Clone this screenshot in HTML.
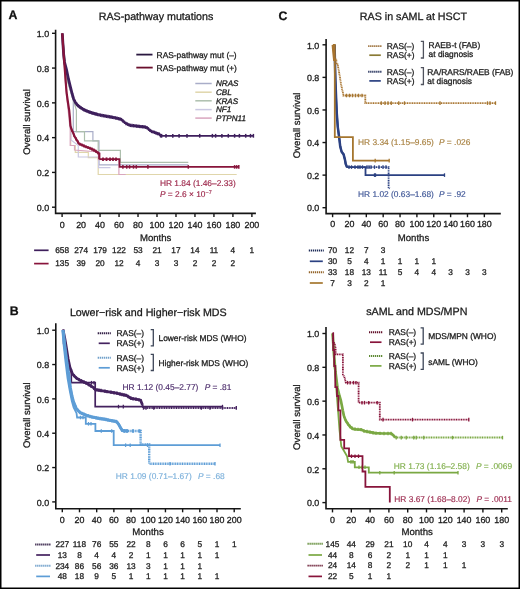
<!DOCTYPE html><html><head><meta charset="utf-8"><style>html,body{margin:0;padding:0;background:#fff;}svg{display:block;font-family:"Liberation Sans", sans-serif;will-change:transform;}</style></head><body>
<svg width="520" height="589" viewBox="0 0 520 589" text-rendering="geometricPrecision">
<rect x="0" y="0" width="520" height="589" fill="#fff"/>
<polyline points="55.60,29.70 55.60,213.40 255.90,213.40" fill="none" stroke="#151515" stroke-width="1.6"/>
<line x1="52.00" y1="207.20" x2="55.60" y2="207.20" stroke="#151515" stroke-width="1.40" stroke-linecap="butt"/>
<text x="49.20" y="210.97" font-size="8.90" text-anchor="end" fill="#1a1a1a" stroke="#1a1a1a" stroke-width="0.28" style="" >0.0</text>
<line x1="52.00" y1="172.42" x2="55.60" y2="172.42" stroke="#151515" stroke-width="1.40" stroke-linecap="butt"/>
<text x="49.20" y="176.19" font-size="8.90" text-anchor="end" fill="#1a1a1a" stroke="#1a1a1a" stroke-width="0.28" style="" >0.2</text>
<line x1="52.00" y1="137.64" x2="55.60" y2="137.64" stroke="#151515" stroke-width="1.40" stroke-linecap="butt"/>
<text x="49.20" y="141.41" font-size="8.90" text-anchor="end" fill="#1a1a1a" stroke="#1a1a1a" stroke-width="0.28" style="" >0.4</text>
<line x1="52.00" y1="102.86" x2="55.60" y2="102.86" stroke="#151515" stroke-width="1.40" stroke-linecap="butt"/>
<text x="49.20" y="106.63" font-size="8.90" text-anchor="end" fill="#1a1a1a" stroke="#1a1a1a" stroke-width="0.28" style="" >0.6</text>
<line x1="52.00" y1="68.08" x2="55.60" y2="68.08" stroke="#151515" stroke-width="1.40" stroke-linecap="butt"/>
<text x="49.20" y="71.85" font-size="8.90" text-anchor="end" fill="#1a1a1a" stroke="#1a1a1a" stroke-width="0.28" style="" >0.8</text>
<line x1="52.00" y1="33.30" x2="55.60" y2="33.30" stroke="#151515" stroke-width="1.40" stroke-linecap="butt"/>
<text x="49.20" y="37.07" font-size="8.90" text-anchor="end" fill="#1a1a1a" stroke="#1a1a1a" stroke-width="0.28" style="" >1.0</text>
<line x1="62.10" y1="213.40" x2="62.10" y2="217.00" stroke="#151515" stroke-width="1.40" stroke-linecap="butt"/>
<text x="62.10" y="227.87" font-size="8.90" text-anchor="middle" fill="#1a1a1a" stroke="#1a1a1a" stroke-width="0.28" style="" >0</text>
<line x1="81.08" y1="213.40" x2="81.08" y2="217.00" stroke="#151515" stroke-width="1.40" stroke-linecap="butt"/>
<text x="81.08" y="227.87" font-size="8.90" text-anchor="middle" fill="#1a1a1a" stroke="#1a1a1a" stroke-width="0.28" style="" >20</text>
<line x1="100.06" y1="213.40" x2="100.06" y2="217.00" stroke="#151515" stroke-width="1.40" stroke-linecap="butt"/>
<text x="100.06" y="227.87" font-size="8.90" text-anchor="middle" fill="#1a1a1a" stroke="#1a1a1a" stroke-width="0.28" style="" >40</text>
<line x1="119.04" y1="213.40" x2="119.04" y2="217.00" stroke="#151515" stroke-width="1.40" stroke-linecap="butt"/>
<text x="119.04" y="227.87" font-size="8.90" text-anchor="middle" fill="#1a1a1a" stroke="#1a1a1a" stroke-width="0.28" style="" >60</text>
<line x1="138.02" y1="213.40" x2="138.02" y2="217.00" stroke="#151515" stroke-width="1.40" stroke-linecap="butt"/>
<text x="138.02" y="227.87" font-size="8.90" text-anchor="middle" fill="#1a1a1a" stroke="#1a1a1a" stroke-width="0.28" style="" >80</text>
<line x1="157.00" y1="213.40" x2="157.00" y2="217.00" stroke="#151515" stroke-width="1.40" stroke-linecap="butt"/>
<text x="157.00" y="227.87" font-size="8.90" text-anchor="middle" fill="#1a1a1a" stroke="#1a1a1a" stroke-width="0.28" style="" >100</text>
<line x1="175.98" y1="213.40" x2="175.98" y2="217.00" stroke="#151515" stroke-width="1.40" stroke-linecap="butt"/>
<text x="175.98" y="227.87" font-size="8.90" text-anchor="middle" fill="#1a1a1a" stroke="#1a1a1a" stroke-width="0.28" style="" >120</text>
<line x1="194.96" y1="213.40" x2="194.96" y2="217.00" stroke="#151515" stroke-width="1.40" stroke-linecap="butt"/>
<text x="194.96" y="227.87" font-size="8.90" text-anchor="middle" fill="#1a1a1a" stroke="#1a1a1a" stroke-width="0.28" style="" >140</text>
<line x1="213.94" y1="213.40" x2="213.94" y2="217.00" stroke="#151515" stroke-width="1.40" stroke-linecap="butt"/>
<text x="213.94" y="227.87" font-size="8.90" text-anchor="middle" fill="#1a1a1a" stroke="#1a1a1a" stroke-width="0.28" style="" >160</text>
<line x1="232.92" y1="213.40" x2="232.92" y2="217.00" stroke="#151515" stroke-width="1.40" stroke-linecap="butt"/>
<text x="232.92" y="227.87" font-size="8.90" text-anchor="middle" fill="#1a1a1a" stroke="#1a1a1a" stroke-width="0.28" style="" >180</text>
<line x1="251.90" y1="213.40" x2="251.90" y2="217.00" stroke="#151515" stroke-width="1.40" stroke-linecap="butt"/>
<text x="251.90" y="227.87" font-size="8.90" text-anchor="middle" fill="#1a1a1a" stroke="#1a1a1a" stroke-width="0.28" style="" >200</text>
<text x="155.70" y="240.81" font-size="9.60" text-anchor="middle" fill="#1a1a1a" stroke="#1a1a1a" stroke-width="0.28" style="" >Months</text>
<text x="0" y="0" font-size="9.60" text-anchor="middle" fill="#151515" stroke="#1a1a1a" stroke-width="0.28" transform="translate(30.10,122.00) rotate(-90)">Overall survival</text>
<line x1="34.10" y1="250.30" x2="48.60" y2="250.30" stroke="#3e1f5c" stroke-width="1.70" stroke-linecap="butt"/>
<text x="62.10" y="253.16" font-size="8.30" text-anchor="middle" fill="#1a1a1a" stroke="#1a1a1a" stroke-width="0.28" style="" >658</text>
<text x="81.08" y="253.16" font-size="8.30" text-anchor="middle" fill="#1a1a1a" stroke="#1a1a1a" stroke-width="0.28" style="" >274</text>
<text x="100.06" y="253.16" font-size="8.30" text-anchor="middle" fill="#1a1a1a" stroke="#1a1a1a" stroke-width="0.28" style="" >179</text>
<text x="119.04" y="253.16" font-size="8.30" text-anchor="middle" fill="#1a1a1a" stroke="#1a1a1a" stroke-width="0.28" style="" >122</text>
<text x="138.02" y="253.16" font-size="8.30" text-anchor="middle" fill="#1a1a1a" stroke="#1a1a1a" stroke-width="0.28" style="" >53</text>
<text x="157.00" y="253.16" font-size="8.30" text-anchor="middle" fill="#1a1a1a" stroke="#1a1a1a" stroke-width="0.28" style="" >21</text>
<text x="175.98" y="253.16" font-size="8.30" text-anchor="middle" fill="#1a1a1a" stroke="#1a1a1a" stroke-width="0.28" style="" >17</text>
<text x="194.96" y="253.16" font-size="8.30" text-anchor="middle" fill="#1a1a1a" stroke="#1a1a1a" stroke-width="0.28" style="" >14</text>
<text x="213.94" y="253.16" font-size="8.30" text-anchor="middle" fill="#1a1a1a" stroke="#1a1a1a" stroke-width="0.28" style="" >11</text>
<text x="232.92" y="253.16" font-size="8.30" text-anchor="middle" fill="#1a1a1a" stroke="#1a1a1a" stroke-width="0.28" style="" >4</text>
<text x="251.90" y="253.16" font-size="8.30" text-anchor="middle" fill="#1a1a1a" stroke="#1a1a1a" stroke-width="0.28" style="" >1</text>
<line x1="34.10" y1="263.60" x2="48.60" y2="263.60" stroke="#88143b" stroke-width="1.70" stroke-linecap="butt"/>
<text x="62.10" y="266.46" font-size="8.30" text-anchor="middle" fill="#1a1a1a" stroke="#1a1a1a" stroke-width="0.28" style="" >135</text>
<text x="81.08" y="266.46" font-size="8.30" text-anchor="middle" fill="#1a1a1a" stroke="#1a1a1a" stroke-width="0.28" style="" >39</text>
<text x="100.06" y="266.46" font-size="8.30" text-anchor="middle" fill="#1a1a1a" stroke="#1a1a1a" stroke-width="0.28" style="" >20</text>
<text x="119.04" y="266.46" font-size="8.30" text-anchor="middle" fill="#1a1a1a" stroke="#1a1a1a" stroke-width="0.28" style="" >12</text>
<text x="138.02" y="266.46" font-size="8.30" text-anchor="middle" fill="#1a1a1a" stroke="#1a1a1a" stroke-width="0.28" style="" >4</text>
<text x="157.00" y="266.46" font-size="8.30" text-anchor="middle" fill="#1a1a1a" stroke="#1a1a1a" stroke-width="0.28" style="" >3</text>
<text x="175.98" y="266.46" font-size="8.30" text-anchor="middle" fill="#1a1a1a" stroke="#1a1a1a" stroke-width="0.28" style="" >3</text>
<text x="194.96" y="266.46" font-size="8.30" text-anchor="middle" fill="#1a1a1a" stroke="#1a1a1a" stroke-width="0.28" style="" >2</text>
<text x="213.94" y="266.46" font-size="8.30" text-anchor="middle" fill="#1a1a1a" stroke="#1a1a1a" stroke-width="0.28" style="" >2</text>
<text x="232.92" y="266.46" font-size="8.30" text-anchor="middle" fill="#1a1a1a" stroke="#1a1a1a" stroke-width="0.28" style="" >2</text>
<text x="8.60" y="18.90" font-size="12.30" text-anchor="start" fill="#111" stroke="#111" stroke-width="0.28" style="font-weight:bold;" >A</text>
<text x="156.00" y="20.10" font-size="10.70" text-anchor="middle" fill="#1a1a1a" stroke="#1a1a1a" stroke-width="0.28" style="" >RAS-pathway mutations</text>
<polyline points="62.30,33.30 66.00,75.00 73.30,101.00 73.30,131.70 92.90,131.70 92.90,140.90 99.00,140.90 99.00,164.80 188.30,164.80" fill="none" stroke="#a9adc8" stroke-width="1.20" stroke-opacity="1.00" stroke-linejoin="miter"/>
<polyline points="62.30,33.30 67.00,80.00 76.40,110.00 76.40,131.70 84.50,131.70 84.50,140.90 98.20,140.90 98.20,150.40 120.40,150.40 120.40,162.30 188.30,162.30" fill="none" stroke="#adbfad" stroke-width="1.20" stroke-opacity="1.00" stroke-linejoin="miter"/>
<polyline points="62.30,33.30 66.00,90.00 70.70,125.00 70.70,145.50 75.30,145.50 75.30,152.30 88.30,152.30 88.30,157.70 98.20,157.70 98.20,174.50 236.70,174.50" fill="none" stroke="#e0d6ab" stroke-width="1.20" stroke-opacity="1.00" stroke-linejoin="miter"/>
<polyline points="62.30,33.30 66.00,90.00 71.00,128.00 71.00,140.00 78.30,145.50 78.30,157.00 98.60,157.00 98.60,167.60 110.50,167.60" fill="none" stroke="#cac8e2" stroke-width="1.20" stroke-opacity="1.00" stroke-linejoin="miter"/>
<polyline points="62.30,33.30 66.00,90.00 70.20,130.00 70.20,145.50 74.50,145.50 74.50,150.00 98.40,152.00 98.40,159.60 118.90,159.60 118.90,174.50 125.70,174.50" fill="none" stroke="#d9a6be" stroke-width="1.20" stroke-opacity="1.00" stroke-linejoin="miter"/>
<polyline points="62.30,33.30 63.00,45.00 63.70,55.00 64.50,62.00 66.50,69.60 68.50,79.20 70.40,86.90 72.20,94.00 73.50,98.50 75.30,102.30 77.50,105.20 79.90,107.20 84.50,110.10 90.60,112.50 98.20,114.70" fill="none" stroke="#3e1f5c" stroke-width="2.80" stroke-opacity="1.00" stroke-linejoin="miter"/>
<polyline points="98.20,114.70 105.90,116.20 113.50,117.50 121.20,119.30 123.50,121.50 125.70,123.30 130.00,125.30 135.00,125.90 140.00,126.50 145.00,127.00 147.50,128.00 149.50,130.00 151.60,131.50 155.00,132.50 157.00,133.50 159.40,134.00 160.50,135.80" fill="none" stroke="#3e1f5c" stroke-width="2.30" stroke-opacity="1.00" stroke-linejoin="miter"/>
<polyline points="160.50,135.80 253.40,135.80" fill="none" stroke="#3e1f5c" stroke-width="1.70" stroke-opacity="1.00" stroke-linejoin="miter"/>
<line x1="75.00" y1="99.97" x2="75.00" y2="103.37" stroke="#3e1f5c" stroke-width="1.30" stroke-linecap="butt"/>
<line x1="76.50" y1="102.18" x2="76.50" y2="105.58" stroke="#3e1f5c" stroke-width="1.30" stroke-linecap="butt"/>
<line x1="78.00" y1="103.92" x2="78.00" y2="107.32" stroke="#3e1f5c" stroke-width="1.30" stroke-linecap="butt"/>
<line x1="79.50" y1="105.17" x2="79.50" y2="108.57" stroke="#3e1f5c" stroke-width="1.30" stroke-linecap="butt"/>
<line x1="81.00" y1="106.19" x2="81.00" y2="109.59" stroke="#3e1f5c" stroke-width="1.30" stroke-linecap="butt"/>
<line x1="82.50" y1="107.14" x2="82.50" y2="110.54" stroke="#3e1f5c" stroke-width="1.30" stroke-linecap="butt"/>
<line x1="84.00" y1="108.08" x2="84.00" y2="111.48" stroke="#3e1f5c" stroke-width="1.30" stroke-linecap="butt"/>
<line x1="85.50" y1="108.79" x2="85.50" y2="112.19" stroke="#3e1f5c" stroke-width="1.30" stroke-linecap="butt"/>
<line x1="87.00" y1="109.38" x2="87.00" y2="112.78" stroke="#3e1f5c" stroke-width="1.30" stroke-linecap="butt"/>
<line x1="88.50" y1="109.97" x2="88.50" y2="113.37" stroke="#3e1f5c" stroke-width="1.30" stroke-linecap="butt"/>
<line x1="90.00" y1="110.56" x2="90.00" y2="113.96" stroke="#3e1f5c" stroke-width="1.30" stroke-linecap="butt"/>
<line x1="91.50" y1="111.06" x2="91.50" y2="114.46" stroke="#3e1f5c" stroke-width="1.30" stroke-linecap="butt"/>
<line x1="93.00" y1="111.49" x2="93.00" y2="114.89" stroke="#3e1f5c" stroke-width="1.30" stroke-linecap="butt"/>
<line x1="94.50" y1="111.93" x2="94.50" y2="115.33" stroke="#3e1f5c" stroke-width="1.30" stroke-linecap="butt"/>
<line x1="96.00" y1="112.36" x2="96.00" y2="115.76" stroke="#3e1f5c" stroke-width="1.30" stroke-linecap="butt"/>
<line x1="97.50" y1="112.80" x2="97.50" y2="116.20" stroke="#3e1f5c" stroke-width="1.30" stroke-linecap="butt"/>
<line x1="99.00" y1="113.16" x2="99.00" y2="116.56" stroke="#3e1f5c" stroke-width="1.30" stroke-linecap="butt"/>
<line x1="100.50" y1="113.45" x2="100.50" y2="116.85" stroke="#3e1f5c" stroke-width="1.30" stroke-linecap="butt"/>
<line x1="102.00" y1="113.74" x2="102.00" y2="117.14" stroke="#3e1f5c" stroke-width="1.30" stroke-linecap="butt"/>
<line x1="103.50" y1="114.03" x2="103.50" y2="117.43" stroke="#3e1f5c" stroke-width="1.30" stroke-linecap="butt"/>
<line x1="105.00" y1="114.32" x2="105.00" y2="117.72" stroke="#3e1f5c" stroke-width="1.30" stroke-linecap="butt"/>
<line x1="106.50" y1="114.60" x2="106.50" y2="118.00" stroke="#3e1f5c" stroke-width="1.30" stroke-linecap="butt"/>
<line x1="108.00" y1="114.86" x2="108.00" y2="118.26" stroke="#3e1f5c" stroke-width="1.30" stroke-linecap="butt"/>
<line x1="109.50" y1="115.12" x2="109.50" y2="118.52" stroke="#3e1f5c" stroke-width="1.30" stroke-linecap="butt"/>
<line x1="111.00" y1="115.37" x2="111.00" y2="118.77" stroke="#3e1f5c" stroke-width="1.30" stroke-linecap="butt"/>
<line x1="112.50" y1="115.63" x2="112.50" y2="119.03" stroke="#3e1f5c" stroke-width="1.30" stroke-linecap="butt"/>
<line x1="114.00" y1="115.92" x2="114.00" y2="119.32" stroke="#3e1f5c" stroke-width="1.30" stroke-linecap="butt"/>
<line x1="115.50" y1="116.27" x2="115.50" y2="119.67" stroke="#3e1f5c" stroke-width="1.30" stroke-linecap="butt"/>
<line x1="117.00" y1="116.62" x2="117.00" y2="120.02" stroke="#3e1f5c" stroke-width="1.30" stroke-linecap="butt"/>
<line x1="118.50" y1="116.97" x2="118.50" y2="120.37" stroke="#3e1f5c" stroke-width="1.30" stroke-linecap="butt"/>
<line x1="120.00" y1="117.32" x2="120.00" y2="120.72" stroke="#3e1f5c" stroke-width="1.30" stroke-linecap="butt"/>
<line x1="121.50" y1="117.89" x2="121.50" y2="121.29" stroke="#3e1f5c" stroke-width="1.30" stroke-linecap="butt"/>
<line x1="123.00" y1="119.32" x2="123.00" y2="122.72" stroke="#3e1f5c" stroke-width="1.30" stroke-linecap="butt"/>
<line x1="124.50" y1="120.62" x2="124.50" y2="124.02" stroke="#3e1f5c" stroke-width="1.30" stroke-linecap="butt"/>
<line x1="126.00" y1="121.74" x2="126.00" y2="125.14" stroke="#3e1f5c" stroke-width="1.30" stroke-linecap="butt"/>
<line x1="127.50" y1="122.44" x2="127.50" y2="125.84" stroke="#3e1f5c" stroke-width="1.30" stroke-linecap="butt"/>
<line x1="129.00" y1="123.13" x2="129.00" y2="126.53" stroke="#3e1f5c" stroke-width="1.30" stroke-linecap="butt"/>
<line x1="130.50" y1="123.66" x2="130.50" y2="127.06" stroke="#3e1f5c" stroke-width="1.30" stroke-linecap="butt"/>
<line x1="132.00" y1="123.84" x2="132.00" y2="127.24" stroke="#3e1f5c" stroke-width="1.30" stroke-linecap="butt"/>
<line x1="133.50" y1="124.02" x2="133.50" y2="127.42" stroke="#3e1f5c" stroke-width="1.30" stroke-linecap="butt"/>
<line x1="135.00" y1="124.20" x2="135.00" y2="127.60" stroke="#3e1f5c" stroke-width="1.30" stroke-linecap="butt"/>
<line x1="136.50" y1="124.38" x2="136.50" y2="127.78" stroke="#3e1f5c" stroke-width="1.30" stroke-linecap="butt"/>
<line x1="138.00" y1="124.56" x2="138.00" y2="127.96" stroke="#3e1f5c" stroke-width="1.30" stroke-linecap="butt"/>
<line x1="139.50" y1="124.74" x2="139.50" y2="128.14" stroke="#3e1f5c" stroke-width="1.30" stroke-linecap="butt"/>
<line x1="141.00" y1="124.90" x2="141.00" y2="128.30" stroke="#3e1f5c" stroke-width="1.30" stroke-linecap="butt"/>
<line x1="142.50" y1="125.05" x2="142.50" y2="128.45" stroke="#3e1f5c" stroke-width="1.30" stroke-linecap="butt"/>
<line x1="144.00" y1="125.20" x2="144.00" y2="128.60" stroke="#3e1f5c" stroke-width="1.30" stroke-linecap="butt"/>
<line x1="145.50" y1="125.50" x2="145.50" y2="128.90" stroke="#3e1f5c" stroke-width="1.30" stroke-linecap="butt"/>
<line x1="147.00" y1="126.10" x2="147.00" y2="129.50" stroke="#3e1f5c" stroke-width="1.30" stroke-linecap="butt"/>
<line x1="148.50" y1="127.30" x2="148.50" y2="130.70" stroke="#3e1f5c" stroke-width="1.30" stroke-linecap="butt"/>
<line x1="150.00" y1="128.66" x2="150.00" y2="132.06" stroke="#3e1f5c" stroke-width="1.30" stroke-linecap="butt"/>
<line x1="151.50" y1="129.73" x2="151.50" y2="133.13" stroke="#3e1f5c" stroke-width="1.30" stroke-linecap="butt"/>
<line x1="153.00" y1="130.21" x2="153.00" y2="133.61" stroke="#3e1f5c" stroke-width="1.30" stroke-linecap="butt"/>
<line x1="154.50" y1="130.65" x2="154.50" y2="134.05" stroke="#3e1f5c" stroke-width="1.30" stroke-linecap="butt"/>
<line x1="156.00" y1="131.30" x2="156.00" y2="134.70" stroke="#3e1f5c" stroke-width="1.30" stroke-linecap="butt"/>
<line x1="157.50" y1="131.90" x2="157.50" y2="135.30" stroke="#3e1f5c" stroke-width="1.30" stroke-linecap="butt"/>
<line x1="159.00" y1="132.22" x2="159.00" y2="135.62" stroke="#3e1f5c" stroke-width="1.30" stroke-linecap="butt"/>
<line x1="160.50" y1="134.10" x2="160.50" y2="137.50" stroke="#3e1f5c" stroke-width="1.30" stroke-linecap="butt"/>
<line x1="161.60" y1="133.90" x2="161.60" y2="137.70" stroke="#3e1f5c" stroke-width="1.50" stroke-linecap="butt"/>
<line x1="166.00" y1="133.90" x2="166.00" y2="137.70" stroke="#3e1f5c" stroke-width="1.50" stroke-linecap="butt"/>
<line x1="172.80" y1="133.90" x2="172.80" y2="137.70" stroke="#3e1f5c" stroke-width="1.50" stroke-linecap="butt"/>
<line x1="179.10" y1="133.90" x2="179.10" y2="137.70" stroke="#3e1f5c" stroke-width="1.50" stroke-linecap="butt"/>
<line x1="187.00" y1="133.90" x2="187.00" y2="137.70" stroke="#3e1f5c" stroke-width="1.50" stroke-linecap="butt"/>
<line x1="199.70" y1="133.90" x2="199.70" y2="137.70" stroke="#3e1f5c" stroke-width="1.50" stroke-linecap="butt"/>
<line x1="212.40" y1="133.90" x2="212.40" y2="137.70" stroke="#3e1f5c" stroke-width="1.50" stroke-linecap="butt"/>
<line x1="215.60" y1="133.90" x2="215.60" y2="137.70" stroke="#3e1f5c" stroke-width="1.50" stroke-linecap="butt"/>
<line x1="221.90" y1="133.90" x2="221.90" y2="137.70" stroke="#3e1f5c" stroke-width="1.50" stroke-linecap="butt"/>
<line x1="228.30" y1="133.90" x2="228.30" y2="137.70" stroke="#3e1f5c" stroke-width="1.50" stroke-linecap="butt"/>
<line x1="234.60" y1="133.90" x2="234.60" y2="137.70" stroke="#3e1f5c" stroke-width="1.50" stroke-linecap="butt"/>
<line x1="239.40" y1="133.90" x2="239.40" y2="137.70" stroke="#3e1f5c" stroke-width="1.50" stroke-linecap="butt"/>
<line x1="245.70" y1="133.90" x2="245.70" y2="137.70" stroke="#3e1f5c" stroke-width="1.50" stroke-linecap="butt"/>
<line x1="250.50" y1="133.90" x2="250.50" y2="137.70" stroke="#3e1f5c" stroke-width="1.50" stroke-linecap="butt"/>
<line x1="253.40" y1="133.90" x2="253.40" y2="137.70" stroke="#3e1f5c" stroke-width="1.50" stroke-linecap="butt"/>
<polyline points="62.30,33.30 63.70,55.00 65.00,72.00 66.20,88.00 66.90,95.00 68.20,104.00 69.20,110.30 69.90,117.90 70.40,125.60 71.50,129.40 73.00,132.50 74.50,136.30 76.80,140.10 79.10,143.90 82.00,145.00 84.50,146.20 90.60,148.50 95.20,150.80 98.20,153.10 99.30,153.50 99.30,159.20" fill="none" stroke="#88143b" stroke-width="2.20" stroke-opacity="1.00" stroke-linejoin="miter"/>
<polyline points="99.30,159.20 119.40,159.20 119.60,166.90 238.80,166.90" fill="none" stroke="#88143b" stroke-width="1.80" stroke-opacity="1.00" stroke-linejoin="miter"/>
<line x1="103.00" y1="157.40" x2="103.00" y2="161.00" stroke="#88143b" stroke-width="1.80" stroke-linecap="butt"/>
<line x1="106.50" y1="157.40" x2="106.50" y2="161.00" stroke="#88143b" stroke-width="1.80" stroke-linecap="butt"/>
<line x1="110.00" y1="157.40" x2="110.00" y2="161.00" stroke="#88143b" stroke-width="1.80" stroke-linecap="butt"/>
<line x1="113.00" y1="157.40" x2="113.00" y2="161.00" stroke="#88143b" stroke-width="1.80" stroke-linecap="butt"/>
<line x1="116.00" y1="157.40" x2="116.00" y2="161.00" stroke="#88143b" stroke-width="1.80" stroke-linecap="butt"/>
<line x1="72.00" y1="128.83" x2="72.00" y2="132.03" stroke="#88143b" stroke-width="1.30" stroke-linecap="butt"/>
<line x1="74.00" y1="133.43" x2="74.00" y2="136.63" stroke="#88143b" stroke-width="1.30" stroke-linecap="butt"/>
<line x1="76.00" y1="137.18" x2="76.00" y2="140.38" stroke="#88143b" stroke-width="1.30" stroke-linecap="butt"/>
<line x1="78.00" y1="140.48" x2="78.00" y2="143.68" stroke="#88143b" stroke-width="1.30" stroke-linecap="butt"/>
<line x1="80.00" y1="142.64" x2="80.00" y2="145.84" stroke="#88143b" stroke-width="1.30" stroke-linecap="butt"/>
<line x1="82.00" y1="143.40" x2="82.00" y2="146.60" stroke="#88143b" stroke-width="1.30" stroke-linecap="butt"/>
<line x1="84.00" y1="144.36" x2="84.00" y2="147.56" stroke="#88143b" stroke-width="1.30" stroke-linecap="butt"/>
<line x1="86.00" y1="145.17" x2="86.00" y2="148.37" stroke="#88143b" stroke-width="1.30" stroke-linecap="butt"/>
<line x1="88.00" y1="145.92" x2="88.00" y2="149.12" stroke="#88143b" stroke-width="1.30" stroke-linecap="butt"/>
<line x1="90.00" y1="146.67" x2="90.00" y2="149.87" stroke="#88143b" stroke-width="1.30" stroke-linecap="butt"/>
<line x1="92.00" y1="147.60" x2="92.00" y2="150.80" stroke="#88143b" stroke-width="1.30" stroke-linecap="butt"/>
<line x1="94.00" y1="148.60" x2="94.00" y2="151.80" stroke="#88143b" stroke-width="1.30" stroke-linecap="butt"/>
<line x1="96.00" y1="149.81" x2="96.00" y2="153.01" stroke="#88143b" stroke-width="1.30" stroke-linecap="butt"/>
<line x1="98.00" y1="151.35" x2="98.00" y2="154.55" stroke="#88143b" stroke-width="1.30" stroke-linecap="butt"/>
<line x1="122.90" y1="165.10" x2="122.90" y2="168.70" stroke="#88143b" stroke-width="1.50" stroke-linecap="butt"/>
<line x1="126.70" y1="165.10" x2="126.70" y2="168.70" stroke="#88143b" stroke-width="1.50" stroke-linecap="butt"/>
<line x1="129.60" y1="165.10" x2="129.60" y2="168.70" stroke="#88143b" stroke-width="1.50" stroke-linecap="butt"/>
<line x1="133.50" y1="165.10" x2="133.50" y2="168.70" stroke="#88143b" stroke-width="1.50" stroke-linecap="butt"/>
<line x1="136.30" y1="165.10" x2="136.30" y2="168.70" stroke="#88143b" stroke-width="1.50" stroke-linecap="butt"/>
<line x1="147.90" y1="165.10" x2="147.90" y2="168.70" stroke="#88143b" stroke-width="1.50" stroke-linecap="butt"/>
<line x1="188.30" y1="165.10" x2="188.30" y2="168.70" stroke="#88143b" stroke-width="1.50" stroke-linecap="butt"/>
<line x1="234.60" y1="165.10" x2="234.60" y2="168.70" stroke="#88143b" stroke-width="1.50" stroke-linecap="butt"/>
<line x1="236.70" y1="165.10" x2="236.70" y2="168.70" stroke="#88143b" stroke-width="1.50" stroke-linecap="butt"/>
<line x1="238.80" y1="165.10" x2="238.80" y2="168.70" stroke="#88143b" stroke-width="1.50" stroke-linecap="butt"/>
<line x1="136.30" y1="54.60" x2="152.50" y2="54.60" stroke="#2a1840" stroke-width="1.80" stroke-linecap="butt"/>
<line x1="136.30" y1="67.60" x2="152.70" y2="67.60" stroke="#6a0f2c" stroke-width="1.80" stroke-linecap="butt"/>
<text x="156.60" y="57.70" font-size="8.40" text-anchor="start" fill="#1a1a1a" stroke="#1a1a1a" stroke-width="0.28" style="" >RAS-pathway mut (–)</text>
<text x="156.60" y="70.70" font-size="8.40" text-anchor="start" fill="#1a1a1a" stroke="#1a1a1a" stroke-width="0.28" style="" >RAS-pathway mut (+)</text>
<line x1="195.30" y1="83.50" x2="211.70" y2="83.50" stroke="#a9adc8" stroke-width="1.50" stroke-linecap="butt"/>
<text x="216.00" y="86.29" font-size="8.10" text-anchor="start" fill="#1a1a1a" stroke="#1a1a1a" stroke-width="0.28" style="font-style:italic;" >NRAS</text>
<line x1="195.30" y1="92.20" x2="211.70" y2="92.20" stroke="#e0d6ab" stroke-width="1.50" stroke-linecap="butt"/>
<text x="216.00" y="94.99" font-size="8.10" text-anchor="start" fill="#1a1a1a" stroke="#1a1a1a" stroke-width="0.28" style="font-style:italic;" >CBL</text>
<line x1="195.30" y1="100.80" x2="211.70" y2="100.80" stroke="#adbfad" stroke-width="1.50" stroke-linecap="butt"/>
<text x="216.00" y="103.59" font-size="8.10" text-anchor="start" fill="#1a1a1a" stroke="#1a1a1a" stroke-width="0.28" style="font-style:italic;" >KRAS</text>
<line x1="195.30" y1="109.60" x2="211.70" y2="109.60" stroke="#cac8e2" stroke-width="1.50" stroke-linecap="butt"/>
<text x="216.00" y="112.39" font-size="8.10" text-anchor="start" fill="#1a1a1a" stroke="#1a1a1a" stroke-width="0.28" style="font-style:italic;" >NF1</text>
<line x1="195.30" y1="118.10" x2="211.70" y2="118.10" stroke="#d9a6be" stroke-width="1.50" stroke-linecap="butt"/>
<text x="216.00" y="120.89" font-size="8.10" text-anchor="start" fill="#1a1a1a" stroke="#1a1a1a" stroke-width="0.28" style="font-style:italic;" >PTPN11</text>
<text x="159.90" y="185.70" font-size="8.40" text-anchor="start" fill="#9c2448" stroke="#9c2448" stroke-width="0.15" style="" >HR 1.84 (1.46–2.33)</text>
<text x="159.90" y="196.80" font-size="8.40" text-anchor="start" fill="#9c2448" stroke="#9c2448" stroke-width="0.15" style="" ><tspan font-style="italic">P</tspan> = 2.6 × 10<tspan font-size="5.5" dy="-3.2">−7</tspan></text>
<polyline points="55.80,323.30 55.80,508.70 240.80,508.70" fill="none" stroke="#151515" stroke-width="1.6"/>
<line x1="52.20" y1="501.90" x2="55.80" y2="501.90" stroke="#151515" stroke-width="1.40" stroke-linecap="butt"/>
<text x="49.20" y="505.67" font-size="8.90" text-anchor="end" fill="#1a1a1a" stroke="#1a1a1a" stroke-width="0.28" style="" >0.0</text>
<line x1="52.20" y1="467.56" x2="55.80" y2="467.56" stroke="#151515" stroke-width="1.40" stroke-linecap="butt"/>
<text x="49.20" y="471.33" font-size="8.90" text-anchor="end" fill="#1a1a1a" stroke="#1a1a1a" stroke-width="0.28" style="" >0.2</text>
<line x1="52.20" y1="433.22" x2="55.80" y2="433.22" stroke="#151515" stroke-width="1.40" stroke-linecap="butt"/>
<text x="49.20" y="436.99" font-size="8.90" text-anchor="end" fill="#1a1a1a" stroke="#1a1a1a" stroke-width="0.28" style="" >0.4</text>
<line x1="52.20" y1="398.88" x2="55.80" y2="398.88" stroke="#151515" stroke-width="1.40" stroke-linecap="butt"/>
<text x="49.20" y="402.65" font-size="8.90" text-anchor="end" fill="#1a1a1a" stroke="#1a1a1a" stroke-width="0.28" style="" >0.6</text>
<line x1="52.20" y1="364.54" x2="55.80" y2="364.54" stroke="#151515" stroke-width="1.40" stroke-linecap="butt"/>
<text x="49.20" y="368.31" font-size="8.90" text-anchor="end" fill="#1a1a1a" stroke="#1a1a1a" stroke-width="0.28" style="" >0.8</text>
<line x1="52.20" y1="330.20" x2="55.80" y2="330.20" stroke="#151515" stroke-width="1.40" stroke-linecap="butt"/>
<text x="49.20" y="333.97" font-size="8.90" text-anchor="end" fill="#1a1a1a" stroke="#1a1a1a" stroke-width="0.28" style="" >1.0</text>
<line x1="62.30" y1="508.70" x2="62.30" y2="512.30" stroke="#151515" stroke-width="1.40" stroke-linecap="butt"/>
<text x="62.30" y="522.67" font-size="8.90" text-anchor="middle" fill="#1a1a1a" stroke="#1a1a1a" stroke-width="0.28" style="" >0</text>
<line x1="79.49" y1="508.70" x2="79.49" y2="512.30" stroke="#151515" stroke-width="1.40" stroke-linecap="butt"/>
<text x="79.49" y="522.67" font-size="8.90" text-anchor="middle" fill="#1a1a1a" stroke="#1a1a1a" stroke-width="0.28" style="" >20</text>
<line x1="96.68" y1="508.70" x2="96.68" y2="512.30" stroke="#151515" stroke-width="1.40" stroke-linecap="butt"/>
<text x="96.68" y="522.67" font-size="8.90" text-anchor="middle" fill="#1a1a1a" stroke="#1a1a1a" stroke-width="0.28" style="" >40</text>
<line x1="113.87" y1="508.70" x2="113.87" y2="512.30" stroke="#151515" stroke-width="1.40" stroke-linecap="butt"/>
<text x="113.87" y="522.67" font-size="8.90" text-anchor="middle" fill="#1a1a1a" stroke="#1a1a1a" stroke-width="0.28" style="" >60</text>
<line x1="131.06" y1="508.70" x2="131.06" y2="512.30" stroke="#151515" stroke-width="1.40" stroke-linecap="butt"/>
<text x="131.06" y="522.67" font-size="8.90" text-anchor="middle" fill="#1a1a1a" stroke="#1a1a1a" stroke-width="0.28" style="" >80</text>
<line x1="148.25" y1="508.70" x2="148.25" y2="512.30" stroke="#151515" stroke-width="1.40" stroke-linecap="butt"/>
<text x="148.25" y="522.67" font-size="8.90" text-anchor="middle" fill="#1a1a1a" stroke="#1a1a1a" stroke-width="0.28" style="" >100</text>
<line x1="165.44" y1="508.70" x2="165.44" y2="512.30" stroke="#151515" stroke-width="1.40" stroke-linecap="butt"/>
<text x="165.44" y="522.67" font-size="8.90" text-anchor="middle" fill="#1a1a1a" stroke="#1a1a1a" stroke-width="0.28" style="" >120</text>
<line x1="182.63" y1="508.70" x2="182.63" y2="512.30" stroke="#151515" stroke-width="1.40" stroke-linecap="butt"/>
<text x="182.63" y="522.67" font-size="8.90" text-anchor="middle" fill="#1a1a1a" stroke="#1a1a1a" stroke-width="0.28" style="" >140</text>
<line x1="199.82" y1="508.70" x2="199.82" y2="512.30" stroke="#151515" stroke-width="1.40" stroke-linecap="butt"/>
<text x="199.82" y="522.67" font-size="8.90" text-anchor="middle" fill="#1a1a1a" stroke="#1a1a1a" stroke-width="0.28" style="" >160</text>
<line x1="217.01" y1="508.70" x2="217.01" y2="512.30" stroke="#151515" stroke-width="1.40" stroke-linecap="butt"/>
<text x="217.01" y="522.67" font-size="8.90" text-anchor="middle" fill="#1a1a1a" stroke="#1a1a1a" stroke-width="0.28" style="" >180</text>
<line x1="234.20" y1="508.70" x2="234.20" y2="512.30" stroke="#151515" stroke-width="1.40" stroke-linecap="butt"/>
<text x="234.20" y="522.67" font-size="8.90" text-anchor="middle" fill="#1a1a1a" stroke="#1a1a1a" stroke-width="0.28" style="" >200</text>
<text x="148.00" y="535.31" font-size="9.60" text-anchor="middle" fill="#1a1a1a" stroke="#1a1a1a" stroke-width="0.28" style="" >Months</text>
<text x="0" y="0" font-size="9.60" text-anchor="middle" fill="#151515" stroke="#1a1a1a" stroke-width="0.28" transform="translate(30.20,415.20) rotate(-90)">Overall survival</text>
<line x1="35.20" y1="544.50" x2="51.00" y2="544.50" stroke="#2c1840" stroke-width="1.90" stroke-dasharray="1.25 0.75" stroke-linecap="butt"/>
<text x="62.30" y="547.36" font-size="8.30" text-anchor="middle" fill="#1a1a1a" stroke="#1a1a1a" stroke-width="0.28" style="" >227</text>
<text x="79.49" y="547.36" font-size="8.30" text-anchor="middle" fill="#1a1a1a" stroke="#1a1a1a" stroke-width="0.28" style="" >118</text>
<text x="96.68" y="547.36" font-size="8.30" text-anchor="middle" fill="#1a1a1a" stroke="#1a1a1a" stroke-width="0.28" style="" >76</text>
<text x="113.87" y="547.36" font-size="8.30" text-anchor="middle" fill="#1a1a1a" stroke="#1a1a1a" stroke-width="0.28" style="" >55</text>
<text x="131.06" y="547.36" font-size="8.30" text-anchor="middle" fill="#1a1a1a" stroke="#1a1a1a" stroke-width="0.28" style="" >22</text>
<text x="148.25" y="547.36" font-size="8.30" text-anchor="middle" fill="#1a1a1a" stroke="#1a1a1a" stroke-width="0.28" style="" >8</text>
<text x="165.44" y="547.36" font-size="8.30" text-anchor="middle" fill="#1a1a1a" stroke="#1a1a1a" stroke-width="0.28" style="" >6</text>
<text x="182.63" y="547.36" font-size="8.30" text-anchor="middle" fill="#1a1a1a" stroke="#1a1a1a" stroke-width="0.28" style="" >6</text>
<text x="199.82" y="547.36" font-size="8.30" text-anchor="middle" fill="#1a1a1a" stroke="#1a1a1a" stroke-width="0.28" style="" >5</text>
<text x="217.01" y="547.36" font-size="8.30" text-anchor="middle" fill="#1a1a1a" stroke="#1a1a1a" stroke-width="0.28" style="" >1</text>
<text x="234.20" y="547.36" font-size="8.30" text-anchor="middle" fill="#1a1a1a" stroke="#1a1a1a" stroke-width="0.28" style="" >1</text>
<line x1="36.20" y1="555.00" x2="50.00" y2="555.00" stroke="#44225f" stroke-width="1.70" stroke-linecap="butt"/>
<text x="62.30" y="557.86" font-size="8.30" text-anchor="middle" fill="#1a1a1a" stroke="#1a1a1a" stroke-width="0.28" style="" >13</text>
<text x="79.49" y="557.86" font-size="8.30" text-anchor="middle" fill="#1a1a1a" stroke="#1a1a1a" stroke-width="0.28" style="" >8</text>
<text x="96.68" y="557.86" font-size="8.30" text-anchor="middle" fill="#1a1a1a" stroke="#1a1a1a" stroke-width="0.28" style="" >4</text>
<text x="113.87" y="557.86" font-size="8.30" text-anchor="middle" fill="#1a1a1a" stroke="#1a1a1a" stroke-width="0.28" style="" >4</text>
<text x="131.06" y="557.86" font-size="8.30" text-anchor="middle" fill="#1a1a1a" stroke="#1a1a1a" stroke-width="0.28" style="" >2</text>
<text x="148.25" y="557.86" font-size="8.30" text-anchor="middle" fill="#1a1a1a" stroke="#1a1a1a" stroke-width="0.28" style="" >1</text>
<text x="165.44" y="557.86" font-size="8.30" text-anchor="middle" fill="#1a1a1a" stroke="#1a1a1a" stroke-width="0.28" style="" >1</text>
<text x="182.63" y="557.86" font-size="8.30" text-anchor="middle" fill="#1a1a1a" stroke="#1a1a1a" stroke-width="0.28" style="" >1</text>
<text x="199.82" y="557.86" font-size="8.30" text-anchor="middle" fill="#1a1a1a" stroke="#1a1a1a" stroke-width="0.28" style="" >1</text>
<text x="217.01" y="557.86" font-size="8.30" text-anchor="middle" fill="#1a1a1a" stroke="#1a1a1a" stroke-width="0.28" style="" >1</text>
<line x1="35.20" y1="565.80" x2="51.00" y2="565.80" stroke="#6a9cc8" stroke-width="1.90" stroke-dasharray="1.25 0.75" stroke-linecap="butt"/>
<text x="62.30" y="568.66" font-size="8.30" text-anchor="middle" fill="#1a1a1a" stroke="#1a1a1a" stroke-width="0.28" style="" >234</text>
<text x="79.49" y="568.66" font-size="8.30" text-anchor="middle" fill="#1a1a1a" stroke="#1a1a1a" stroke-width="0.28" style="" >86</text>
<text x="96.68" y="568.66" font-size="8.30" text-anchor="middle" fill="#1a1a1a" stroke="#1a1a1a" stroke-width="0.28" style="" >56</text>
<text x="113.87" y="568.66" font-size="8.30" text-anchor="middle" fill="#1a1a1a" stroke="#1a1a1a" stroke-width="0.28" style="" >36</text>
<text x="131.06" y="568.66" font-size="8.30" text-anchor="middle" fill="#1a1a1a" stroke="#1a1a1a" stroke-width="0.28" style="" >13</text>
<text x="148.25" y="568.66" font-size="8.30" text-anchor="middle" fill="#1a1a1a" stroke="#1a1a1a" stroke-width="0.28" style="" >3</text>
<text x="165.44" y="568.66" font-size="8.30" text-anchor="middle" fill="#1a1a1a" stroke="#1a1a1a" stroke-width="0.28" style="" >1</text>
<text x="182.63" y="568.66" font-size="8.30" text-anchor="middle" fill="#1a1a1a" stroke="#1a1a1a" stroke-width="0.28" style="" >1</text>
<text x="199.82" y="568.66" font-size="8.30" text-anchor="middle" fill="#1a1a1a" stroke="#1a1a1a" stroke-width="0.28" style="" >1</text>
<line x1="36.20" y1="576.40" x2="50.00" y2="576.40" stroke="#5d9dd6" stroke-width="1.70" stroke-linecap="butt"/>
<text x="62.30" y="579.26" font-size="8.30" text-anchor="middle" fill="#1a1a1a" stroke="#1a1a1a" stroke-width="0.28" style="" >48</text>
<text x="79.49" y="579.26" font-size="8.30" text-anchor="middle" fill="#1a1a1a" stroke="#1a1a1a" stroke-width="0.28" style="" >18</text>
<text x="96.68" y="579.26" font-size="8.30" text-anchor="middle" fill="#1a1a1a" stroke="#1a1a1a" stroke-width="0.28" style="" >9</text>
<text x="113.87" y="579.26" font-size="8.30" text-anchor="middle" fill="#1a1a1a" stroke="#1a1a1a" stroke-width="0.28" style="" >5</text>
<text x="131.06" y="579.26" font-size="8.30" text-anchor="middle" fill="#1a1a1a" stroke="#1a1a1a" stroke-width="0.28" style="" >1</text>
<text x="148.25" y="579.26" font-size="8.30" text-anchor="middle" fill="#1a1a1a" stroke="#1a1a1a" stroke-width="0.28" style="" >1</text>
<text x="165.44" y="579.26" font-size="8.30" text-anchor="middle" fill="#1a1a1a" stroke="#1a1a1a" stroke-width="0.28" style="" >1</text>
<text x="182.63" y="579.26" font-size="8.30" text-anchor="middle" fill="#1a1a1a" stroke="#1a1a1a" stroke-width="0.28" style="" >1</text>
<text x="199.82" y="579.26" font-size="8.30" text-anchor="middle" fill="#1a1a1a" stroke="#1a1a1a" stroke-width="0.28" style="" >1</text>
<text x="217.01" y="579.26" font-size="8.30" text-anchor="middle" fill="#1a1a1a" stroke="#1a1a1a" stroke-width="0.28" style="" >1</text>
<text x="9.80" y="315.20" font-size="12.30" text-anchor="start" fill="#111" stroke="#111" stroke-width="0.28" style="font-weight:bold;" >B</text>
<text x="148.30" y="315.80" font-size="10.70" text-anchor="middle" fill="#1a1a1a" stroke="#1a1a1a" stroke-width="0.28" style="" >Lower−risk and Higher−risk MDS</text>
<polyline points="62.30,330.20 63.60,330.20 63.60,343.40 65.60,343.40 65.60,356.60 68.00,356.60 68.00,369.80 71.30,369.80 71.30,382.70 95.20,382.70 95.20,406.60 222.50,406.60" fill="none" stroke="#44225f" stroke-width="1.70" stroke-opacity="1.00" stroke-linejoin="miter"/>
<line x1="91.50" y1="380.90" x2="91.50" y2="384.50" stroke="#44225f" stroke-width="1.30" stroke-linecap="butt"/>
<line x1="94.00" y1="380.90" x2="94.00" y2="384.50" stroke="#44225f" stroke-width="1.30" stroke-linecap="butt"/>
<line x1="118.50" y1="404.80" x2="118.50" y2="408.40" stroke="#44225f" stroke-width="1.30" stroke-linecap="butt"/>
<line x1="123.30" y1="404.80" x2="123.30" y2="408.40" stroke="#44225f" stroke-width="1.30" stroke-linecap="butt"/>
<line x1="222.50" y1="404.80" x2="222.50" y2="408.40" stroke="#44225f" stroke-width="1.30" stroke-linecap="butt"/>
<polyline points="63.10,330.10 64.90,339.00 66.40,348.10 68.10,358.70 69.90,367.30 72.50,374.00 76.20,377.90 80.00,380.20 85.80,382.90 90.60,385.80 93.50,387.70 95.40,389.60 101.20,390.60 108.80,391.90 116.50,393.10 121.30,394.40 126.20,395.40 131.00,398.30 135.80,399.20 140.60,400.20 142.50,405.00" fill="none" stroke="#44225f" stroke-width="2.80" stroke-opacity="1.00" stroke-linejoin="miter"/>
<polyline points="142.50,405.00 143.30,407.90 236.30,407.90" fill="none" stroke="#44225f" stroke-width="2.00" stroke-dasharray="1.1 0.6" stroke-opacity="1.00" stroke-linejoin="miter"/>
<line x1="66.00" y1="343.97" x2="66.00" y2="347.37" stroke="#44225f" stroke-width="1.30" stroke-linecap="butt"/>
<line x1="68.00" y1="356.38" x2="68.00" y2="359.78" stroke="#44225f" stroke-width="1.30" stroke-linecap="butt"/>
<line x1="70.00" y1="365.86" x2="70.00" y2="369.26" stroke="#44225f" stroke-width="1.30" stroke-linecap="butt"/>
<line x1="72.00" y1="371.01" x2="72.00" y2="374.41" stroke="#44225f" stroke-width="1.30" stroke-linecap="butt"/>
<line x1="74.00" y1="373.88" x2="74.00" y2="377.28" stroke="#44225f" stroke-width="1.30" stroke-linecap="butt"/>
<line x1="76.50" y1="376.38" x2="76.50" y2="379.78" stroke="#44225f" stroke-width="1.30" stroke-linecap="butt"/>
<line x1="79.00" y1="377.89" x2="79.00" y2="381.29" stroke="#44225f" stroke-width="1.30" stroke-linecap="butt"/>
<line x1="81.50" y1="379.20" x2="81.50" y2="382.60" stroke="#44225f" stroke-width="1.30" stroke-linecap="butt"/>
<line x1="84.00" y1="380.36" x2="84.00" y2="383.76" stroke="#44225f" stroke-width="1.30" stroke-linecap="butt"/>
<line x1="86.00" y1="381.32" x2="86.00" y2="384.72" stroke="#44225f" stroke-width="1.30" stroke-linecap="butt"/>
<line x1="88.50" y1="382.83" x2="88.50" y2="386.23" stroke="#44225f" stroke-width="1.30" stroke-linecap="butt"/>
<line x1="91.00" y1="384.36" x2="91.00" y2="387.76" stroke="#44225f" stroke-width="1.30" stroke-linecap="butt"/>
<line x1="94.00" y1="386.50" x2="94.00" y2="389.90" stroke="#44225f" stroke-width="1.30" stroke-linecap="butt"/>
<line x1="97.00" y1="388.18" x2="97.00" y2="391.58" stroke="#44225f" stroke-width="1.30" stroke-linecap="butt"/>
<line x1="99.00" y1="388.52" x2="99.00" y2="391.92" stroke="#44225f" stroke-width="1.30" stroke-linecap="butt"/>
<line x1="101.00" y1="388.87" x2="101.00" y2="392.27" stroke="#44225f" stroke-width="1.30" stroke-linecap="butt"/>
<line x1="105.00" y1="389.55" x2="105.00" y2="392.95" stroke="#44225f" stroke-width="1.30" stroke-linecap="butt"/>
<line x1="107.00" y1="389.89" x2="107.00" y2="393.29" stroke="#44225f" stroke-width="1.30" stroke-linecap="butt"/>
<line x1="111.00" y1="390.54" x2="111.00" y2="393.94" stroke="#44225f" stroke-width="1.30" stroke-linecap="butt"/>
<line x1="114.00" y1="391.01" x2="114.00" y2="394.41" stroke="#44225f" stroke-width="1.30" stroke-linecap="butt"/>
<line x1="117.00" y1="391.54" x2="117.00" y2="394.94" stroke="#44225f" stroke-width="1.30" stroke-linecap="butt"/>
<line x1="120.00" y1="392.35" x2="120.00" y2="395.75" stroke="#44225f" stroke-width="1.30" stroke-linecap="butt"/>
<line x1="122.00" y1="392.84" x2="122.00" y2="396.24" stroke="#44225f" stroke-width="1.30" stroke-linecap="butt"/>
<line x1="124.00" y1="393.25" x2="124.00" y2="396.65" stroke="#44225f" stroke-width="1.30" stroke-linecap="butt"/>
<line x1="126.00" y1="393.66" x2="126.00" y2="397.06" stroke="#44225f" stroke-width="1.30" stroke-linecap="butt"/>
<line x1="128.00" y1="394.79" x2="128.00" y2="398.19" stroke="#44225f" stroke-width="1.30" stroke-linecap="butt"/>
<line x1="131.00" y1="396.60" x2="131.00" y2="400.00" stroke="#44225f" stroke-width="1.30" stroke-linecap="butt"/>
<line x1="133.00" y1="396.98" x2="133.00" y2="400.38" stroke="#44225f" stroke-width="1.30" stroke-linecap="butt"/>
<line x1="136.00" y1="397.54" x2="136.00" y2="400.94" stroke="#44225f" stroke-width="1.30" stroke-linecap="butt"/>
<line x1="139.00" y1="398.17" x2="139.00" y2="401.57" stroke="#44225f" stroke-width="1.30" stroke-linecap="butt"/>
<line x1="141.00" y1="399.51" x2="141.00" y2="402.91" stroke="#44225f" stroke-width="1.30" stroke-linecap="butt"/>
<line x1="143.50" y1="406.10" x2="143.50" y2="409.70" stroke="#44225f" stroke-width="1.40" stroke-linecap="butt"/>
<line x1="146.00" y1="406.10" x2="146.00" y2="409.70" stroke="#44225f" stroke-width="1.40" stroke-linecap="butt"/>
<line x1="153.80" y1="406.10" x2="153.80" y2="409.70" stroke="#44225f" stroke-width="1.40" stroke-linecap="butt"/>
<line x1="201.30" y1="406.10" x2="201.30" y2="409.70" stroke="#44225f" stroke-width="1.40" stroke-linecap="butt"/>
<line x1="210.00" y1="406.10" x2="210.00" y2="409.70" stroke="#44225f" stroke-width="1.40" stroke-linecap="butt"/>
<line x1="222.50" y1="406.10" x2="222.50" y2="409.70" stroke="#44225f" stroke-width="1.40" stroke-linecap="butt"/>
<line x1="236.30" y1="406.10" x2="236.30" y2="409.70" stroke="#44225f" stroke-width="1.40" stroke-linecap="butt"/>
<polyline points="62.30,330.20 63.60,345.00 65.50,362.00 67.50,378.00 69.80,391.00 71.80,401.00 73.60,407.50 76.50,413.00 77.10,417.50 85.80,417.50 85.80,423.80 95.40,423.80 95.40,431.00 113.70,431.00 113.70,445.20 220.00,445.20" fill="none" stroke="#5d9dd6" stroke-width="1.80" stroke-opacity="1.00" stroke-linejoin="miter"/>
<line x1="72.00" y1="394.50" x2="72.00" y2="397.90" stroke="#5d9dd6" stroke-width="1.30" stroke-linecap="butt"/>
<line x1="74.00" y1="401.24" x2="74.00" y2="404.64" stroke="#5d9dd6" stroke-width="1.30" stroke-linecap="butt"/>
<line x1="76.00" y1="406.20" x2="76.00" y2="409.60" stroke="#5d9dd6" stroke-width="1.30" stroke-linecap="butt"/>
<line x1="78.00" y1="408.64" x2="78.00" y2="412.04" stroke="#5d9dd6" stroke-width="1.30" stroke-linecap="butt"/>
<line x1="80.00" y1="410.80" x2="80.00" y2="414.20" stroke="#5d9dd6" stroke-width="1.30" stroke-linecap="butt"/>
<line x1="82.00" y1="411.70" x2="82.00" y2="415.10" stroke="#5d9dd6" stroke-width="1.30" stroke-linecap="butt"/>
<line x1="84.00" y1="412.59" x2="84.00" y2="415.99" stroke="#5d9dd6" stroke-width="1.30" stroke-linecap="butt"/>
<line x1="86.00" y1="413.46" x2="86.00" y2="416.86" stroke="#5d9dd6" stroke-width="1.30" stroke-linecap="butt"/>
<line x1="88.00" y1="414.09" x2="88.00" y2="417.49" stroke="#5d9dd6" stroke-width="1.30" stroke-linecap="butt"/>
<line x1="90.00" y1="414.73" x2="90.00" y2="418.13" stroke="#5d9dd6" stroke-width="1.30" stroke-linecap="butt"/>
<line x1="92.00" y1="415.30" x2="92.00" y2="418.70" stroke="#5d9dd6" stroke-width="1.30" stroke-linecap="butt"/>
<line x1="94.00" y1="415.69" x2="94.00" y2="419.09" stroke="#5d9dd6" stroke-width="1.30" stroke-linecap="butt"/>
<line x1="96.00" y1="416.08" x2="96.00" y2="419.48" stroke="#5d9dd6" stroke-width="1.30" stroke-linecap="butt"/>
<line x1="98.00" y1="416.47" x2="98.00" y2="419.87" stroke="#5d9dd6" stroke-width="1.30" stroke-linecap="butt"/>
<line x1="100.00" y1="416.82" x2="100.00" y2="420.22" stroke="#5d9dd6" stroke-width="1.30" stroke-linecap="butt"/>
<line x1="102.00" y1="417.13" x2="102.00" y2="420.53" stroke="#5d9dd6" stroke-width="1.30" stroke-linecap="butt"/>
<line x1="104.00" y1="417.44" x2="104.00" y2="420.84" stroke="#5d9dd6" stroke-width="1.30" stroke-linecap="butt"/>
<line x1="106.00" y1="417.82" x2="106.00" y2="421.22" stroke="#5d9dd6" stroke-width="1.30" stroke-linecap="butt"/>
<line x1="108.00" y1="418.27" x2="108.00" y2="421.67" stroke="#5d9dd6" stroke-width="1.30" stroke-linecap="butt"/>
<line x1="110.00" y1="418.72" x2="110.00" y2="422.12" stroke="#5d9dd6" stroke-width="1.30" stroke-linecap="butt"/>
<line x1="112.00" y1="419.11" x2="112.00" y2="422.51" stroke="#5d9dd6" stroke-width="1.30" stroke-linecap="butt"/>
<line x1="114.00" y1="419.46" x2="114.00" y2="422.86" stroke="#5d9dd6" stroke-width="1.30" stroke-linecap="butt"/>
<line x1="116.00" y1="419.81" x2="116.00" y2="423.21" stroke="#5d9dd6" stroke-width="1.30" stroke-linecap="butt"/>
<line x1="118.00" y1="421.70" x2="118.00" y2="425.10" stroke="#5d9dd6" stroke-width="1.30" stroke-linecap="butt"/>
<line x1="120.00" y1="425.06" x2="120.00" y2="428.46" stroke="#5d9dd6" stroke-width="1.30" stroke-linecap="butt"/>
<line x1="122.00" y1="428.41" x2="122.00" y2="431.81" stroke="#5d9dd6" stroke-width="1.30" stroke-linecap="butt"/>
<line x1="124.00" y1="429.02" x2="124.00" y2="432.42" stroke="#5d9dd6" stroke-width="1.30" stroke-linecap="butt"/>
<polyline points="63.10,330.10 64.60,344.20 66.50,359.60 68.50,373.00 70.40,388.00 72.00,396.20 73.30,401.20 76.20,408.40 80.00,412.50 85.80,415.10 91.50,416.90 99.20,418.40 105.00,419.30 110.80,420.60 116.50,421.60 118.50,424.00 120.40,427.50 122.30,430.60 128.10,431.00 140.60,431.00 140.60,444.40 149.20,444.40 149.20,463.70 215.00,463.70" fill="none" stroke="#5d9dd6" stroke-width="2.40" stroke-dasharray="1.1 0.6" stroke-opacity="1.00" stroke-linejoin="miter"/>
<polyline points="63.10,330.10 64.60,344.20 66.50,359.60 68.50,373.00 70.40,388.00 72.00,396.20 73.30,401.20 76.20,408.40 80.00,412.50 85.80,415.10 91.50,416.90 99.20,418.40 105.00,419.30 110.80,420.60 116.50,421.60 118.50,424.00 120.40,427.50 122.30,430.60 128.10,431.00" fill="none" stroke="#5d9dd6" stroke-width="3.00" stroke-opacity="1.00" stroke-linejoin="miter"/>
<line x1="124.50" y1="429.20" x2="124.50" y2="432.80" stroke="#5d9dd6" stroke-width="2.00" stroke-linecap="butt"/>
<line x1="127.00" y1="429.20" x2="127.00" y2="432.80" stroke="#5d9dd6" stroke-width="2.00" stroke-linecap="butt"/>
<line x1="133.00" y1="429.20" x2="133.00" y2="432.80" stroke="#5d9dd6" stroke-width="2.00" stroke-linecap="butt"/>
<line x1="139.40" y1="429.20" x2="139.40" y2="432.80" stroke="#5d9dd6" stroke-width="2.00" stroke-linecap="butt"/>
<line x1="170.00" y1="461.90" x2="170.00" y2="465.50" stroke="#5d9dd6" stroke-width="1.30" stroke-linecap="butt"/>
<line x1="215.00" y1="461.90" x2="215.00" y2="465.50" stroke="#5d9dd6" stroke-width="1.30" stroke-linecap="butt"/>
<line x1="80.50" y1="415.70" x2="80.50" y2="419.30" stroke="#5d9dd6" stroke-width="1.30" stroke-linecap="butt"/>
<line x1="83.00" y1="415.70" x2="83.00" y2="419.30" stroke="#5d9dd6" stroke-width="1.30" stroke-linecap="butt"/>
<line x1="88.50" y1="422.00" x2="88.50" y2="425.60" stroke="#5d9dd6" stroke-width="1.30" stroke-linecap="butt"/>
<line x1="91.00" y1="422.00" x2="91.00" y2="425.60" stroke="#5d9dd6" stroke-width="1.30" stroke-linecap="butt"/>
<line x1="101.30" y1="429.20" x2="101.30" y2="432.80" stroke="#5d9dd6" stroke-width="1.30" stroke-linecap="butt"/>
<line x1="111.70" y1="429.20" x2="111.70" y2="432.80" stroke="#5d9dd6" stroke-width="1.30" stroke-linecap="butt"/>
<line x1="125.60" y1="443.40" x2="125.60" y2="447.00" stroke="#5d9dd6" stroke-width="1.30" stroke-linecap="butt"/>
<line x1="130.20" y1="443.40" x2="130.20" y2="447.00" stroke="#5d9dd6" stroke-width="1.30" stroke-linecap="butt"/>
<line x1="147.50" y1="443.40" x2="147.50" y2="447.00" stroke="#5d9dd6" stroke-width="1.30" stroke-linecap="butt"/>
<line x1="220.00" y1="443.40" x2="220.00" y2="447.00" stroke="#5d9dd6" stroke-width="1.30" stroke-linecap="butt"/>
<line x1="97.70" y1="333.30" x2="110.80" y2="333.30" stroke="#2c1840" stroke-width="1.90" stroke-dasharray="1.25 0.75" stroke-linecap="butt"/>
<line x1="98.70" y1="343.30" x2="109.80" y2="343.30" stroke="#44225f" stroke-width="1.70" stroke-linecap="butt"/>
<line x1="97.70" y1="357.70" x2="110.80" y2="357.70" stroke="#6a9cc8" stroke-width="1.90" stroke-dasharray="1.25 0.75" stroke-linecap="butt"/>
<line x1="98.70" y1="367.80" x2="109.80" y2="367.80" stroke="#5d9dd6" stroke-width="1.70" stroke-linecap="butt"/>
<text x="116.50" y="336.20" font-size="8.40" text-anchor="start" fill="#1a1a1a" stroke="#1a1a1a" stroke-width="0.28" style="" >RAS(–)</text>
<text x="116.50" y="346.20" font-size="8.40" text-anchor="start" fill="#1a1a1a" stroke="#1a1a1a" stroke-width="0.28" style="" >RAS(+)</text>
<text x="116.50" y="360.60" font-size="8.40" text-anchor="start" fill="#1a1a1a" stroke="#1a1a1a" stroke-width="0.28" style="" >RAS(–)</text>
<text x="116.50" y="370.70" font-size="8.40" text-anchor="start" fill="#1a1a1a" stroke="#1a1a1a" stroke-width="0.28" style="" >RAS(+)</text>
<polyline points="150.70,329.70 153.30,329.70 153.30,345.80 150.70,345.80" fill="none" stroke="#3d4658" stroke-width="1.3"/>
<polyline points="150.70,354.30 153.30,354.30 153.30,370.50 150.70,370.50" fill="none" stroke="#3d4658" stroke-width="1.3"/>
<text x="158.50" y="341.10" font-size="8.40" text-anchor="start" fill="#1a1a1a" stroke="#1a1a1a" stroke-width="0.28" style="" >Lower-risk MDS (WHO)</text>
<text x="158.50" y="366.00" font-size="8.40" text-anchor="start" fill="#1a1a1a" stroke="#1a1a1a" stroke-width="0.28" style="" >Higher-risk MDS (WHO)</text>
<text x="122.50" y="390.40" font-size="8.40" text-anchor="start" fill="#4a2a6a" stroke="#4a2a6a" stroke-width="0.15" style="" xml:space="preserve">HR 1.12 (0.45–2.77)  <tspan font-style="italic" dx="1.6">P</tspan> = .81</text>
<text x="115.80" y="479.40" font-size="8.40" text-anchor="start" fill="#7db1db" stroke="#7db1db" stroke-width="0.15" style="" xml:space="preserve">HR 1.09 (0.71–1.67)  <tspan font-style="italic" dx="1.6">P</tspan> = .68</text>
<polyline points="326.10,38.90 326.10,213.60 500.80,213.60" fill="none" stroke="#151515" stroke-width="1.6"/>
<line x1="322.50" y1="207.70" x2="326.10" y2="207.70" stroke="#151515" stroke-width="1.40" stroke-linecap="butt"/>
<text x="319.30" y="211.47" font-size="8.90" text-anchor="end" fill="#1a1a1a" stroke="#1a1a1a" stroke-width="0.28" style="" >0.0</text>
<line x1="322.50" y1="175.12" x2="326.10" y2="175.12" stroke="#151515" stroke-width="1.40" stroke-linecap="butt"/>
<text x="319.30" y="178.89" font-size="8.90" text-anchor="end" fill="#1a1a1a" stroke="#1a1a1a" stroke-width="0.28" style="" >0.2</text>
<line x1="322.50" y1="142.54" x2="326.10" y2="142.54" stroke="#151515" stroke-width="1.40" stroke-linecap="butt"/>
<text x="319.30" y="146.31" font-size="8.90" text-anchor="end" fill="#1a1a1a" stroke="#1a1a1a" stroke-width="0.28" style="" >0.4</text>
<line x1="322.50" y1="109.96" x2="326.10" y2="109.96" stroke="#151515" stroke-width="1.40" stroke-linecap="butt"/>
<text x="319.30" y="113.73" font-size="8.90" text-anchor="end" fill="#1a1a1a" stroke="#1a1a1a" stroke-width="0.28" style="" >0.6</text>
<line x1="322.50" y1="77.38" x2="326.10" y2="77.38" stroke="#151515" stroke-width="1.40" stroke-linecap="butt"/>
<text x="319.30" y="81.15" font-size="8.90" text-anchor="end" fill="#1a1a1a" stroke="#1a1a1a" stroke-width="0.28" style="" >0.8</text>
<line x1="322.50" y1="44.80" x2="326.10" y2="44.80" stroke="#151515" stroke-width="1.40" stroke-linecap="butt"/>
<text x="319.30" y="48.57" font-size="8.90" text-anchor="end" fill="#1a1a1a" stroke="#1a1a1a" stroke-width="0.28" style="" >1.0</text>
<line x1="332.60" y1="213.60" x2="332.60" y2="217.20" stroke="#151515" stroke-width="1.40" stroke-linecap="butt"/>
<text x="332.60" y="227.37" font-size="8.90" text-anchor="middle" fill="#1a1a1a" stroke="#1a1a1a" stroke-width="0.28" style="" >0</text>
<line x1="349.46" y1="213.60" x2="349.46" y2="217.20" stroke="#151515" stroke-width="1.40" stroke-linecap="butt"/>
<text x="349.46" y="227.37" font-size="8.90" text-anchor="middle" fill="#1a1a1a" stroke="#1a1a1a" stroke-width="0.28" style="" >20</text>
<line x1="366.32" y1="213.60" x2="366.32" y2="217.20" stroke="#151515" stroke-width="1.40" stroke-linecap="butt"/>
<text x="366.32" y="227.37" font-size="8.90" text-anchor="middle" fill="#1a1a1a" stroke="#1a1a1a" stroke-width="0.28" style="" >40</text>
<line x1="383.18" y1="213.60" x2="383.18" y2="217.20" stroke="#151515" stroke-width="1.40" stroke-linecap="butt"/>
<text x="383.18" y="227.37" font-size="8.90" text-anchor="middle" fill="#1a1a1a" stroke="#1a1a1a" stroke-width="0.28" style="" >60</text>
<line x1="400.04" y1="213.60" x2="400.04" y2="217.20" stroke="#151515" stroke-width="1.40" stroke-linecap="butt"/>
<text x="400.04" y="227.37" font-size="8.90" text-anchor="middle" fill="#1a1a1a" stroke="#1a1a1a" stroke-width="0.28" style="" >80</text>
<line x1="416.90" y1="213.60" x2="416.90" y2="217.20" stroke="#151515" stroke-width="1.40" stroke-linecap="butt"/>
<text x="416.90" y="227.37" font-size="8.90" text-anchor="middle" fill="#1a1a1a" stroke="#1a1a1a" stroke-width="0.28" style="" >100</text>
<line x1="433.76" y1="213.60" x2="433.76" y2="217.20" stroke="#151515" stroke-width="1.40" stroke-linecap="butt"/>
<text x="433.76" y="227.37" font-size="8.90" text-anchor="middle" fill="#1a1a1a" stroke="#1a1a1a" stroke-width="0.28" style="" >120</text>
<line x1="450.62" y1="213.60" x2="450.62" y2="217.20" stroke="#151515" stroke-width="1.40" stroke-linecap="butt"/>
<text x="450.62" y="227.37" font-size="8.90" text-anchor="middle" fill="#1a1a1a" stroke="#1a1a1a" stroke-width="0.28" style="" >140</text>
<line x1="467.48" y1="213.60" x2="467.48" y2="217.20" stroke="#151515" stroke-width="1.40" stroke-linecap="butt"/>
<text x="467.48" y="227.37" font-size="8.90" text-anchor="middle" fill="#1a1a1a" stroke="#1a1a1a" stroke-width="0.28" style="" >160</text>
<line x1="484.34" y1="213.60" x2="484.34" y2="217.20" stroke="#151515" stroke-width="1.40" stroke-linecap="butt"/>
<text x="484.34" y="227.37" font-size="8.90" text-anchor="middle" fill="#1a1a1a" stroke="#1a1a1a" stroke-width="0.28" style="" >180</text>
<text x="413.50" y="240.81" font-size="9.60" text-anchor="middle" fill="#1a1a1a" stroke="#1a1a1a" stroke-width="0.28" style="" >Months</text>
<text x="0" y="0" font-size="9.60" text-anchor="middle" fill="#151515" stroke="#1a1a1a" stroke-width="0.28" transform="translate(300.30,125.40) rotate(-90)">Overall survival</text>
<line x1="308.80" y1="250.50" x2="323.80" y2="250.50" stroke="#1e2c58" stroke-width="1.90" stroke-dasharray="1.25 0.75" stroke-linecap="butt"/>
<text x="332.60" y="253.36" font-size="8.30" text-anchor="middle" fill="#1a1a1a" stroke="#1a1a1a" stroke-width="0.28" style="" >70</text>
<text x="349.46" y="253.36" font-size="8.30" text-anchor="middle" fill="#1a1a1a" stroke="#1a1a1a" stroke-width="0.28" style="" >12</text>
<text x="366.32" y="253.36" font-size="8.30" text-anchor="middle" fill="#1a1a1a" stroke="#1a1a1a" stroke-width="0.28" style="" >7</text>
<text x="383.18" y="253.36" font-size="8.30" text-anchor="middle" fill="#1a1a1a" stroke="#1a1a1a" stroke-width="0.28" style="" >3</text>
<line x1="309.80" y1="261.30" x2="322.80" y2="261.30" stroke="#2b4182" stroke-width="1.70" stroke-linecap="butt"/>
<text x="332.60" y="264.16" font-size="8.30" text-anchor="middle" fill="#1a1a1a" stroke="#1a1a1a" stroke-width="0.28" style="" >30</text>
<text x="349.46" y="264.16" font-size="8.30" text-anchor="middle" fill="#1a1a1a" stroke="#1a1a1a" stroke-width="0.28" style="" >5</text>
<text x="366.32" y="264.16" font-size="8.30" text-anchor="middle" fill="#1a1a1a" stroke="#1a1a1a" stroke-width="0.28" style="" >4</text>
<text x="383.18" y="264.16" font-size="8.30" text-anchor="middle" fill="#1a1a1a" stroke="#1a1a1a" stroke-width="0.28" style="" >1</text>
<text x="400.04" y="264.16" font-size="8.30" text-anchor="middle" fill="#1a1a1a" stroke="#1a1a1a" stroke-width="0.28" style="" >1</text>
<text x="416.90" y="264.16" font-size="8.30" text-anchor="middle" fill="#1a1a1a" stroke="#1a1a1a" stroke-width="0.28" style="" >1</text>
<text x="433.76" y="264.16" font-size="8.30" text-anchor="middle" fill="#1a1a1a" stroke="#1a1a1a" stroke-width="0.28" style="" >1</text>
<line x1="308.80" y1="272.20" x2="323.80" y2="272.20" stroke="#94652a" stroke-width="1.90" stroke-dasharray="1.25 0.75" stroke-linecap="butt"/>
<text x="332.60" y="275.06" font-size="8.30" text-anchor="middle" fill="#1a1a1a" stroke="#1a1a1a" stroke-width="0.28" style="" >33</text>
<text x="349.46" y="275.06" font-size="8.30" text-anchor="middle" fill="#1a1a1a" stroke="#1a1a1a" stroke-width="0.28" style="" >18</text>
<text x="366.32" y="275.06" font-size="8.30" text-anchor="middle" fill="#1a1a1a" stroke="#1a1a1a" stroke-width="0.28" style="" >13</text>
<text x="383.18" y="275.06" font-size="8.30" text-anchor="middle" fill="#1a1a1a" stroke="#1a1a1a" stroke-width="0.28" style="" >11</text>
<text x="400.04" y="275.06" font-size="8.30" text-anchor="middle" fill="#1a1a1a" stroke="#1a1a1a" stroke-width="0.28" style="" >5</text>
<text x="416.90" y="275.06" font-size="8.30" text-anchor="middle" fill="#1a1a1a" stroke="#1a1a1a" stroke-width="0.28" style="" >4</text>
<text x="433.76" y="275.06" font-size="8.30" text-anchor="middle" fill="#1a1a1a" stroke="#1a1a1a" stroke-width="0.28" style="" >4</text>
<text x="450.62" y="275.06" font-size="8.30" text-anchor="middle" fill="#1a1a1a" stroke="#1a1a1a" stroke-width="0.28" style="" >3</text>
<text x="467.48" y="275.06" font-size="8.30" text-anchor="middle" fill="#1a1a1a" stroke="#1a1a1a" stroke-width="0.28" style="" >3</text>
<text x="484.34" y="275.06" font-size="8.30" text-anchor="middle" fill="#1a1a1a" stroke="#1a1a1a" stroke-width="0.28" style="" >3</text>
<line x1="309.80" y1="283.00" x2="322.80" y2="283.00" stroke="#a5762f" stroke-width="1.70" stroke-linecap="butt"/>
<text x="332.60" y="285.86" font-size="8.30" text-anchor="middle" fill="#1a1a1a" stroke="#1a1a1a" stroke-width="0.28" style="" >7</text>
<text x="349.46" y="285.86" font-size="8.30" text-anchor="middle" fill="#1a1a1a" stroke="#1a1a1a" stroke-width="0.28" style="" >3</text>
<text x="366.32" y="285.86" font-size="8.30" text-anchor="middle" fill="#1a1a1a" stroke="#1a1a1a" stroke-width="0.28" style="" >2</text>
<text x="383.18" y="285.86" font-size="8.30" text-anchor="middle" fill="#1a1a1a" stroke="#1a1a1a" stroke-width="0.28" style="" >1</text>
<text x="278.60" y="19.60" font-size="12.30" text-anchor="start" fill="#111" stroke="#111" stroke-width="0.28" style="font-weight:bold;" >C</text>
<text x="413.40" y="20.10" font-size="10.70" text-anchor="middle" fill="#1a1a1a" stroke="#1a1a1a" stroke-width="0.28" style="" >RAS in sAML at HSCT</text>
<polyline points="334.60,44.80 334.90,60.00 335.40,80.00 336.20,100.00 336.80,113.60 337.80,127.20 338.90,135.40 339.60,140.80 340.20,146.30 341.60,151.70 343.60,154.40 345.00,159.90 345.70,163.90 347.00,167.10 365.50,167.10 365.50,175.10 444.50,175.10" fill="none" stroke="#2b4182" stroke-width="1.80" stroke-opacity="1.00" stroke-linejoin="miter"/>
<line x1="374.50" y1="173.30" x2="374.50" y2="176.90" stroke="#2b4182" stroke-width="1.30" stroke-linecap="butt"/>
<line x1="375.50" y1="173.30" x2="375.50" y2="176.90" stroke="#2b4182" stroke-width="1.30" stroke-linecap="butt"/>
<line x1="444.50" y1="173.30" x2="444.50" y2="176.90" stroke="#2b4182" stroke-width="1.30" stroke-linecap="butt"/>
<polyline points="334.60,44.80 334.90,60.00 335.40,80.00 336.20,100.00 336.80,113.60 337.80,127.20 338.90,135.40 339.60,140.80 340.20,146.30 341.60,151.70 343.60,154.40 345.00,159.90 345.70,163.90 347.00,167.10" fill="none" stroke="#2b4182" stroke-width="2.50" stroke-opacity="1.00" stroke-linejoin="miter"/>
<polyline points="347.00,167.10 388.60,167.10 388.60,187.50 389.80,188.50" fill="none" stroke="#2b4182" stroke-width="1.80" stroke-dasharray="1.1 0.6" stroke-opacity="1.00" stroke-linejoin="miter"/>
<line x1="349.00" y1="165.30" x2="349.00" y2="168.90" stroke="#2b4182" stroke-width="1.30" stroke-linecap="butt"/>
<line x1="351.50" y1="165.30" x2="351.50" y2="168.90" stroke="#2b4182" stroke-width="1.30" stroke-linecap="butt"/>
<line x1="355.00" y1="165.30" x2="355.00" y2="168.90" stroke="#2b4182" stroke-width="1.30" stroke-linecap="butt"/>
<line x1="358.00" y1="165.30" x2="358.00" y2="168.90" stroke="#2b4182" stroke-width="1.30" stroke-linecap="butt"/>
<line x1="360.00" y1="165.30" x2="360.00" y2="168.90" stroke="#2b4182" stroke-width="1.30" stroke-linecap="butt"/>
<line x1="362.50" y1="165.30" x2="362.50" y2="168.90" stroke="#2b4182" stroke-width="1.30" stroke-linecap="butt"/>
<line x1="367.00" y1="165.30" x2="367.00" y2="168.90" stroke="#2b4182" stroke-width="1.30" stroke-linecap="butt"/>
<line x1="369.00" y1="165.30" x2="369.00" y2="168.90" stroke="#2b4182" stroke-width="1.30" stroke-linecap="butt"/>
<line x1="371.00" y1="165.30" x2="371.00" y2="168.90" stroke="#2b4182" stroke-width="1.30" stroke-linecap="butt"/>
<line x1="374.50" y1="165.30" x2="374.50" y2="168.90" stroke="#2b4182" stroke-width="1.30" stroke-linecap="butt"/>
<line x1="379.00" y1="165.30" x2="379.00" y2="168.90" stroke="#2b4182" stroke-width="1.30" stroke-linecap="butt"/>
<line x1="383.00" y1="165.30" x2="383.00" y2="168.90" stroke="#2b4182" stroke-width="1.30" stroke-linecap="butt"/>
<line x1="386.00" y1="165.30" x2="386.00" y2="168.90" stroke="#2b4182" stroke-width="1.30" stroke-linecap="butt"/>
<polyline points="332.90,44.80 334.80,44.80 334.80,137.20 352.90,137.20 352.90,160.60 389.20,160.60" fill="none" stroke="#a5762f" stroke-width="1.80" stroke-opacity="1.00" stroke-linejoin="miter"/>
<line x1="375.20" y1="158.80" x2="375.20" y2="162.40" stroke="#a5762f" stroke-width="1.30" stroke-linecap="butt"/>
<line x1="389.20" y1="158.80" x2="389.20" y2="162.40" stroke="#a5762f" stroke-width="1.30" stroke-linecap="butt"/>
<polyline points="332.90,44.80 333.50,52.00 334.30,59.70 336.40,59.70" fill="none" stroke="#a8742f" stroke-width="2.60" stroke-opacity="1.00" stroke-linejoin="miter"/>
<polyline points="336.40,59.70 336.40,64.30 337.60,64.30 338.70,70.00 339.90,77.00 341.00,83.90 342.20,89.70 343.10,93.20 343.30,95.50 365.30,95.50 365.30,103.10 495.50,103.10" fill="none" stroke="#a8742f" stroke-width="1.80" stroke-dasharray="1.1 0.6" stroke-opacity="1.00" stroke-linejoin="miter"/>
<line x1="346.50" y1="93.70" x2="346.50" y2="97.30" stroke="#a5762f" stroke-width="1.30" stroke-linecap="butt"/>
<line x1="349.50" y1="93.70" x2="349.50" y2="97.30" stroke="#a5762f" stroke-width="1.30" stroke-linecap="butt"/>
<line x1="352.50" y1="93.70" x2="352.50" y2="97.30" stroke="#a5762f" stroke-width="1.30" stroke-linecap="butt"/>
<line x1="355.50" y1="93.70" x2="355.50" y2="97.30" stroke="#a5762f" stroke-width="1.30" stroke-linecap="butt"/>
<line x1="358.50" y1="93.70" x2="358.50" y2="97.30" stroke="#a5762f" stroke-width="1.30" stroke-linecap="butt"/>
<line x1="362.00" y1="93.70" x2="362.00" y2="97.30" stroke="#a5762f" stroke-width="1.30" stroke-linecap="butt"/>
<line x1="381.25" y1="101.30" x2="381.25" y2="104.90" stroke="#a5762f" stroke-width="1.30" stroke-linecap="butt"/>
<line x1="385.00" y1="101.30" x2="385.00" y2="104.90" stroke="#a5762f" stroke-width="1.30" stroke-linecap="butt"/>
<line x1="388.00" y1="101.30" x2="388.00" y2="104.90" stroke="#a5762f" stroke-width="1.30" stroke-linecap="butt"/>
<line x1="391.25" y1="101.30" x2="391.25" y2="104.90" stroke="#a5762f" stroke-width="1.30" stroke-linecap="butt"/>
<line x1="398.75" y1="101.30" x2="398.75" y2="104.90" stroke="#a5762f" stroke-width="1.30" stroke-linecap="butt"/>
<line x1="404.50" y1="101.30" x2="404.50" y2="104.90" stroke="#a5762f" stroke-width="1.30" stroke-linecap="butt"/>
<line x1="440.00" y1="101.30" x2="440.00" y2="104.90" stroke="#a5762f" stroke-width="1.30" stroke-linecap="butt"/>
<line x1="487.50" y1="101.30" x2="487.50" y2="104.90" stroke="#a5762f" stroke-width="1.30" stroke-linecap="butt"/>
<line x1="490.00" y1="101.30" x2="490.00" y2="104.90" stroke="#a5762f" stroke-width="1.30" stroke-linecap="butt"/>
<line x1="495.50" y1="101.30" x2="495.50" y2="104.90" stroke="#a5762f" stroke-width="1.30" stroke-linecap="butt"/>
<line x1="368.20" y1="46.10" x2="382.10" y2="46.10" stroke="#94652a" stroke-width="1.90" stroke-dasharray="1.25 0.75" stroke-linecap="butt"/>
<line x1="369.30" y1="55.20" x2="380.80" y2="55.20" stroke="#8a7a34" stroke-width="1.70" stroke-linecap="butt"/>
<line x1="368.20" y1="71.80" x2="382.10" y2="71.80" stroke="#1e2c58" stroke-width="1.90" stroke-dasharray="1.25 0.75" stroke-linecap="butt"/>
<line x1="369.30" y1="80.90" x2="380.80" y2="80.90" stroke="#2b4182" stroke-width="1.70" stroke-linecap="butt"/>
<text x="386.80" y="49.00" font-size="8.40" text-anchor="start" fill="#1a1a1a" stroke="#1a1a1a" stroke-width="0.28" style="" >RAS(–)</text>
<text x="386.80" y="58.10" font-size="8.40" text-anchor="start" fill="#1a1a1a" stroke="#1a1a1a" stroke-width="0.28" style="" >RAS(+)</text>
<text x="386.80" y="74.70" font-size="8.40" text-anchor="start" fill="#1a1a1a" stroke="#1a1a1a" stroke-width="0.28" style="" >RAS(–)</text>
<text x="386.80" y="83.80" font-size="8.40" text-anchor="start" fill="#1a1a1a" stroke="#1a1a1a" stroke-width="0.28" style="" >RAS(+)</text>
<polyline points="420.80,41.40 423.40,41.40 423.40,58.00 420.80,58.00" fill="none" stroke="#50535e" stroke-width="1.3"/>
<polyline points="420.80,67.70 423.40,67.70 423.40,84.50 420.80,84.50" fill="none" stroke="#50535e" stroke-width="1.3"/>
<text x="428.60" y="47.90" font-size="8.40" text-anchor="start" fill="#1a1a1a" stroke="#1a1a1a" stroke-width="0.28" style="" >RAEB-t (FAB)</text>
<text x="428.60" y="57.40" font-size="8.40" text-anchor="start" fill="#1a1a1a" stroke="#1a1a1a" stroke-width="0.28" style="" >at diagnosis</text>
<text x="427.30" y="74.50" font-size="8.40" text-anchor="start" fill="#1a1a1a" stroke="#1a1a1a" stroke-width="0.28" style="" >RA/RARS/RAEB (FAB)</text>
<text x="427.30" y="84.30" font-size="8.40" text-anchor="start" fill="#1a1a1a" stroke="#1a1a1a" stroke-width="0.28" style="" >at diagnosis</text>
<text x="358.00" y="144.90" font-size="8.40" text-anchor="start" fill="#a88040" stroke="#a88040" stroke-width="0.15" style="" xml:space="preserve">HR 3.34 (1.15–9.65)  <tspan font-style="italic" dx="0.4">P</tspan> = .026</text>
<text x="358.00" y="196.70" font-size="8.40" text-anchor="start" fill="#3d5596" stroke="#3d5596" stroke-width="0.15" style="" xml:space="preserve">HR 1.02 (0.63–1.68)  <tspan font-style="italic" dx="0.4">P</tspan> = .92</text>
<polyline points="326.00,326.90 326.00,508.80 507.80,508.80" fill="none" stroke="#151515" stroke-width="1.6"/>
<line x1="322.40" y1="502.60" x2="326.00" y2="502.60" stroke="#151515" stroke-width="1.40" stroke-linecap="butt"/>
<text x="319.30" y="506.37" font-size="8.90" text-anchor="end" fill="#1a1a1a" stroke="#1a1a1a" stroke-width="0.28" style="" >0.0</text>
<line x1="322.40" y1="468.78" x2="326.00" y2="468.78" stroke="#151515" stroke-width="1.40" stroke-linecap="butt"/>
<text x="319.30" y="472.55" font-size="8.90" text-anchor="end" fill="#1a1a1a" stroke="#1a1a1a" stroke-width="0.28" style="" >0.2</text>
<line x1="322.40" y1="434.96" x2="326.00" y2="434.96" stroke="#151515" stroke-width="1.40" stroke-linecap="butt"/>
<text x="319.30" y="438.73" font-size="8.90" text-anchor="end" fill="#1a1a1a" stroke="#1a1a1a" stroke-width="0.28" style="" >0.4</text>
<line x1="322.40" y1="401.14" x2="326.00" y2="401.14" stroke="#151515" stroke-width="1.40" stroke-linecap="butt"/>
<text x="319.30" y="404.91" font-size="8.90" text-anchor="end" fill="#1a1a1a" stroke="#1a1a1a" stroke-width="0.28" style="" >0.6</text>
<line x1="322.40" y1="367.32" x2="326.00" y2="367.32" stroke="#151515" stroke-width="1.40" stroke-linecap="butt"/>
<text x="319.30" y="371.09" font-size="8.90" text-anchor="end" fill="#1a1a1a" stroke="#1a1a1a" stroke-width="0.28" style="" >0.8</text>
<line x1="322.40" y1="333.50" x2="326.00" y2="333.50" stroke="#151515" stroke-width="1.40" stroke-linecap="butt"/>
<text x="319.30" y="337.27" font-size="8.90" text-anchor="end" fill="#1a1a1a" stroke="#1a1a1a" stroke-width="0.28" style="" >1.0</text>
<line x1="332.50" y1="508.80" x2="332.50" y2="512.40" stroke="#151515" stroke-width="1.40" stroke-linecap="butt"/>
<text x="332.50" y="523.07" font-size="8.90" text-anchor="middle" fill="#1a1a1a" stroke="#1a1a1a" stroke-width="0.28" style="" >0</text>
<line x1="351.30" y1="508.80" x2="351.30" y2="512.40" stroke="#151515" stroke-width="1.40" stroke-linecap="butt"/>
<text x="351.30" y="523.07" font-size="8.90" text-anchor="middle" fill="#1a1a1a" stroke="#1a1a1a" stroke-width="0.28" style="" >20</text>
<line x1="370.10" y1="508.80" x2="370.10" y2="512.40" stroke="#151515" stroke-width="1.40" stroke-linecap="butt"/>
<text x="370.10" y="523.07" font-size="8.90" text-anchor="middle" fill="#1a1a1a" stroke="#1a1a1a" stroke-width="0.28" style="" >40</text>
<line x1="388.90" y1="508.80" x2="388.90" y2="512.40" stroke="#151515" stroke-width="1.40" stroke-linecap="butt"/>
<text x="388.90" y="523.07" font-size="8.90" text-anchor="middle" fill="#1a1a1a" stroke="#1a1a1a" stroke-width="0.28" style="" >60</text>
<line x1="407.70" y1="508.80" x2="407.70" y2="512.40" stroke="#151515" stroke-width="1.40" stroke-linecap="butt"/>
<text x="407.70" y="523.07" font-size="8.90" text-anchor="middle" fill="#1a1a1a" stroke="#1a1a1a" stroke-width="0.28" style="" >80</text>
<line x1="426.50" y1="508.80" x2="426.50" y2="512.40" stroke="#151515" stroke-width="1.40" stroke-linecap="butt"/>
<text x="426.50" y="523.07" font-size="8.90" text-anchor="middle" fill="#1a1a1a" stroke="#1a1a1a" stroke-width="0.28" style="" >100</text>
<line x1="445.30" y1="508.80" x2="445.30" y2="512.40" stroke="#151515" stroke-width="1.40" stroke-linecap="butt"/>
<text x="445.30" y="523.07" font-size="8.90" text-anchor="middle" fill="#1a1a1a" stroke="#1a1a1a" stroke-width="0.28" style="" >120</text>
<line x1="464.10" y1="508.80" x2="464.10" y2="512.40" stroke="#151515" stroke-width="1.40" stroke-linecap="butt"/>
<text x="464.10" y="523.07" font-size="8.90" text-anchor="middle" fill="#1a1a1a" stroke="#1a1a1a" stroke-width="0.28" style="" >140</text>
<line x1="482.90" y1="508.80" x2="482.90" y2="512.40" stroke="#151515" stroke-width="1.40" stroke-linecap="butt"/>
<text x="482.90" y="523.07" font-size="8.90" text-anchor="middle" fill="#1a1a1a" stroke="#1a1a1a" stroke-width="0.28" style="" >160</text>
<line x1="501.70" y1="508.80" x2="501.70" y2="512.40" stroke="#151515" stroke-width="1.40" stroke-linecap="butt"/>
<text x="501.70" y="523.07" font-size="8.90" text-anchor="middle" fill="#1a1a1a" stroke="#1a1a1a" stroke-width="0.28" style="" >180</text>
<text x="417.20" y="535.11" font-size="9.60" text-anchor="middle" fill="#1a1a1a" stroke="#1a1a1a" stroke-width="0.28" style="" >Months</text>
<text x="0" y="0" font-size="9.60" text-anchor="middle" fill="#151515" stroke="#1a1a1a" stroke-width="0.28" transform="translate(300.40,417.10) rotate(-90)">Overall survival</text>
<line x1="307.50" y1="543.80" x2="323.00" y2="543.80" stroke="#5f8a35" stroke-width="1.90" stroke-dasharray="1.25 0.75" stroke-linecap="butt"/>
<text x="332.50" y="546.66" font-size="8.30" text-anchor="middle" fill="#1a1a1a" stroke="#1a1a1a" stroke-width="0.28" style="" >145</text>
<text x="351.30" y="546.66" font-size="8.30" text-anchor="middle" fill="#1a1a1a" stroke="#1a1a1a" stroke-width="0.28" style="" >44</text>
<text x="370.10" y="546.66" font-size="8.30" text-anchor="middle" fill="#1a1a1a" stroke="#1a1a1a" stroke-width="0.28" style="" >29</text>
<text x="388.90" y="546.66" font-size="8.30" text-anchor="middle" fill="#1a1a1a" stroke="#1a1a1a" stroke-width="0.28" style="" >21</text>
<text x="407.70" y="546.66" font-size="8.30" text-anchor="middle" fill="#1a1a1a" stroke="#1a1a1a" stroke-width="0.28" style="" >10</text>
<text x="426.50" y="546.66" font-size="8.30" text-anchor="middle" fill="#1a1a1a" stroke="#1a1a1a" stroke-width="0.28" style="" >4</text>
<text x="445.30" y="546.66" font-size="8.30" text-anchor="middle" fill="#1a1a1a" stroke="#1a1a1a" stroke-width="0.28" style="" >4</text>
<text x="464.10" y="546.66" font-size="8.30" text-anchor="middle" fill="#1a1a1a" stroke="#1a1a1a" stroke-width="0.28" style="" >3</text>
<text x="482.90" y="546.66" font-size="8.30" text-anchor="middle" fill="#1a1a1a" stroke="#1a1a1a" stroke-width="0.28" style="" >3</text>
<text x="501.70" y="546.66" font-size="8.30" text-anchor="middle" fill="#1a1a1a" stroke="#1a1a1a" stroke-width="0.28" style="" >3</text>
<line x1="308.50" y1="555.00" x2="322.00" y2="555.00" stroke="#7aa843" stroke-width="1.70" stroke-linecap="butt"/>
<text x="332.50" y="557.86" font-size="8.30" text-anchor="middle" fill="#1a1a1a" stroke="#1a1a1a" stroke-width="0.28" style="" >44</text>
<text x="351.30" y="557.86" font-size="8.30" text-anchor="middle" fill="#1a1a1a" stroke="#1a1a1a" stroke-width="0.28" style="" >8</text>
<text x="370.10" y="557.86" font-size="8.30" text-anchor="middle" fill="#1a1a1a" stroke="#1a1a1a" stroke-width="0.28" style="" >6</text>
<text x="388.90" y="557.86" font-size="8.30" text-anchor="middle" fill="#1a1a1a" stroke="#1a1a1a" stroke-width="0.28" style="" >2</text>
<text x="407.70" y="557.86" font-size="8.30" text-anchor="middle" fill="#1a1a1a" stroke="#1a1a1a" stroke-width="0.28" style="" >1</text>
<text x="426.50" y="557.86" font-size="8.30" text-anchor="middle" fill="#1a1a1a" stroke="#1a1a1a" stroke-width="0.28" style="" >1</text>
<text x="445.30" y="557.86" font-size="8.30" text-anchor="middle" fill="#1a1a1a" stroke="#1a1a1a" stroke-width="0.28" style="" >1</text>
<line x1="307.50" y1="565.60" x2="323.00" y2="565.60" stroke="#62102a" stroke-width="1.90" stroke-dasharray="1.25 0.75" stroke-linecap="butt"/>
<text x="332.50" y="568.46" font-size="8.30" text-anchor="middle" fill="#1a1a1a" stroke="#1a1a1a" stroke-width="0.28" style="" >24</text>
<text x="351.30" y="568.46" font-size="8.30" text-anchor="middle" fill="#1a1a1a" stroke="#1a1a1a" stroke-width="0.28" style="" >14</text>
<text x="370.10" y="568.46" font-size="8.30" text-anchor="middle" fill="#1a1a1a" stroke="#1a1a1a" stroke-width="0.28" style="" >8</text>
<text x="388.90" y="568.46" font-size="8.30" text-anchor="middle" fill="#1a1a1a" stroke="#1a1a1a" stroke-width="0.28" style="" >2</text>
<text x="407.70" y="568.46" font-size="8.30" text-anchor="middle" fill="#1a1a1a" stroke="#1a1a1a" stroke-width="0.28" style="" >2</text>
<text x="426.50" y="568.46" font-size="8.30" text-anchor="middle" fill="#1a1a1a" stroke="#1a1a1a" stroke-width="0.28" style="" >1</text>
<text x="445.30" y="568.46" font-size="8.30" text-anchor="middle" fill="#1a1a1a" stroke="#1a1a1a" stroke-width="0.28" style="" >1</text>
<text x="464.10" y="568.46" font-size="8.30" text-anchor="middle" fill="#1a1a1a" stroke="#1a1a1a" stroke-width="0.28" style="" >1</text>
<line x1="308.50" y1="576.40" x2="322.00" y2="576.40" stroke="#88143b" stroke-width="1.70" stroke-linecap="butt"/>
<text x="332.50" y="579.26" font-size="8.30" text-anchor="middle" fill="#1a1a1a" stroke="#1a1a1a" stroke-width="0.28" style="" >22</text>
<text x="351.30" y="579.26" font-size="8.30" text-anchor="middle" fill="#1a1a1a" stroke="#1a1a1a" stroke-width="0.28" style="" >5</text>
<text x="370.10" y="579.26" font-size="8.30" text-anchor="middle" fill="#1a1a1a" stroke="#1a1a1a" stroke-width="0.28" style="" >1</text>
<text x="388.90" y="579.26" font-size="8.30" text-anchor="middle" fill="#1a1a1a" stroke="#1a1a1a" stroke-width="0.28" style="" >1</text>
<text x="416.80" y="314.50" font-size="10.70" text-anchor="middle" fill="#1a1a1a" stroke="#1a1a1a" stroke-width="0.28" style="" >sAML and MDS/MPN</text>
<polyline points="332.60,333.50 333.50,345.00 334.50,365.00 336.00,385.00 338.00,410.00 339.50,430.00 341.30,446.50 344.20,451.30 347.10,456.20 348.10,461.90 354.80,461.90 354.80,467.30 368.80,467.30 368.80,472.70 458.00,472.70" fill="none" stroke="#7aa843" stroke-width="1.80" stroke-opacity="1.00" stroke-linejoin="miter"/>
<line x1="351.00" y1="460.10" x2="351.00" y2="463.70" stroke="#7aa843" stroke-width="1.30" stroke-linecap="butt"/>
<line x1="353.00" y1="460.10" x2="353.00" y2="463.70" stroke="#7aa843" stroke-width="1.30" stroke-linecap="butt"/>
<line x1="359.00" y1="465.50" x2="359.00" y2="469.10" stroke="#7aa843" stroke-width="1.30" stroke-linecap="butt"/>
<line x1="362.00" y1="465.50" x2="362.00" y2="469.10" stroke="#7aa843" stroke-width="1.30" stroke-linecap="butt"/>
<line x1="365.00" y1="465.50" x2="365.00" y2="469.10" stroke="#7aa843" stroke-width="1.30" stroke-linecap="butt"/>
<line x1="379.80" y1="470.90" x2="379.80" y2="474.50" stroke="#7aa843" stroke-width="1.30" stroke-linecap="butt"/>
<line x1="394.20" y1="470.90" x2="394.20" y2="474.50" stroke="#7aa843" stroke-width="1.30" stroke-linecap="butt"/>
<line x1="458.00" y1="470.90" x2="458.00" y2="474.50" stroke="#7aa843" stroke-width="1.30" stroke-linecap="butt"/>
<polyline points="332.60,333.50 334.00,355.00 335.50,372.00 337.50,388.00 339.50,396.00 340.80,400.40 341.80,405.20 342.80,410.60 343.80,415.40 345.50,420.10 347.60,423.50 350.30,426.90 353.00,428.90 356.40,429.30 361.20,429.60 364.00,431.00 367.30,431.60 375.00,433.10 382.70,433.50 391.30,433.50 393.50,435.50 395.20,437.60" fill="none" stroke="#7aa843" stroke-width="2.70" stroke-opacity="1.00" stroke-linejoin="miter"/>
<polyline points="395.20,437.60 502.50,437.60" fill="none" stroke="#7aa843" stroke-width="2.00" stroke-dasharray="1.1 0.6" stroke-opacity="1.00" stroke-linejoin="miter"/>
<line x1="396.25" y1="435.80" x2="396.25" y2="439.40" stroke="#7aa843" stroke-width="1.30" stroke-linecap="butt"/>
<line x1="401.25" y1="435.80" x2="401.25" y2="439.40" stroke="#7aa843" stroke-width="1.30" stroke-linecap="butt"/>
<line x1="406.25" y1="435.80" x2="406.25" y2="439.40" stroke="#7aa843" stroke-width="1.30" stroke-linecap="butt"/>
<line x1="413.75" y1="435.80" x2="413.75" y2="439.40" stroke="#7aa843" stroke-width="1.30" stroke-linecap="butt"/>
<line x1="416.25" y1="435.80" x2="416.25" y2="439.40" stroke="#7aa843" stroke-width="1.30" stroke-linecap="butt"/>
<line x1="423.75" y1="435.80" x2="423.75" y2="439.40" stroke="#7aa843" stroke-width="1.30" stroke-linecap="butt"/>
<line x1="452.50" y1="435.80" x2="452.50" y2="439.40" stroke="#7aa843" stroke-width="1.30" stroke-linecap="butt"/>
<line x1="502.50" y1="435.80" x2="502.50" y2="439.40" stroke="#7aa843" stroke-width="1.30" stroke-linecap="butt"/>
<line x1="342.00" y1="404.58" x2="342.00" y2="407.98" stroke="#7aa843" stroke-width="1.30" stroke-linecap="butt"/>
<line x1="344.00" y1="414.25" x2="344.00" y2="417.65" stroke="#7aa843" stroke-width="1.30" stroke-linecap="butt"/>
<line x1="346.00" y1="419.21" x2="346.00" y2="422.61" stroke="#7aa843" stroke-width="1.30" stroke-linecap="butt"/>
<line x1="348.00" y1="422.30" x2="348.00" y2="425.70" stroke="#7aa843" stroke-width="1.30" stroke-linecap="butt"/>
<line x1="350.00" y1="424.82" x2="350.00" y2="428.22" stroke="#7aa843" stroke-width="1.30" stroke-linecap="butt"/>
<line x1="352.00" y1="426.46" x2="352.00" y2="429.86" stroke="#7aa843" stroke-width="1.30" stroke-linecap="butt"/>
<line x1="355.00" y1="427.44" x2="355.00" y2="430.84" stroke="#7aa843" stroke-width="1.30" stroke-linecap="butt"/>
<line x1="358.00" y1="427.70" x2="358.00" y2="431.10" stroke="#7aa843" stroke-width="1.30" stroke-linecap="butt"/>
<line x1="361.00" y1="427.89" x2="361.00" y2="431.29" stroke="#7aa843" stroke-width="1.30" stroke-linecap="butt"/>
<line x1="364.00" y1="429.30" x2="364.00" y2="432.70" stroke="#7aa843" stroke-width="1.30" stroke-linecap="butt"/>
<line x1="367.00" y1="429.85" x2="367.00" y2="433.25" stroke="#7aa843" stroke-width="1.30" stroke-linecap="butt"/>
<line x1="370.00" y1="430.43" x2="370.00" y2="433.83" stroke="#7aa843" stroke-width="1.30" stroke-linecap="butt"/>
<line x1="373.00" y1="431.01" x2="373.00" y2="434.41" stroke="#7aa843" stroke-width="1.30" stroke-linecap="butt"/>
<line x1="376.00" y1="431.45" x2="376.00" y2="434.85" stroke="#7aa843" stroke-width="1.30" stroke-linecap="butt"/>
<line x1="380.00" y1="431.66" x2="380.00" y2="435.06" stroke="#7aa843" stroke-width="1.30" stroke-linecap="butt"/>
<line x1="384.00" y1="431.80" x2="384.00" y2="435.20" stroke="#7aa843" stroke-width="1.30" stroke-linecap="butt"/>
<line x1="388.00" y1="431.80" x2="388.00" y2="435.20" stroke="#7aa843" stroke-width="1.30" stroke-linecap="butt"/>
<line x1="391.00" y1="431.80" x2="391.00" y2="435.20" stroke="#7aa843" stroke-width="1.30" stroke-linecap="butt"/>
<polyline points="332.60,333.50 333.20,333.50 333.20,350.00 334.20,350.00 334.20,366.00 335.30,366.00 335.30,387.20 337.00,387.20 337.00,396.00 338.40,396.00 338.40,410.30 340.40,410.30 340.40,439.80 344.20,439.80 344.20,448.30 349.00,448.30 349.00,456.20 362.50,456.20 362.50,471.50 365.40,471.50 365.40,486.90 389.80,486.90 389.80,502.60" fill="none" stroke="#88143b" stroke-width="1.80" stroke-opacity="1.00" stroke-linejoin="miter"/>
<line x1="351.50" y1="454.40" x2="351.50" y2="458.00" stroke="#88143b" stroke-width="1.30" stroke-linecap="butt"/>
<line x1="355.00" y1="454.40" x2="355.00" y2="458.00" stroke="#88143b" stroke-width="1.30" stroke-linecap="butt"/>
<line x1="358.50" y1="454.40" x2="358.50" y2="458.00" stroke="#88143b" stroke-width="1.30" stroke-linecap="butt"/>
<polyline points="332.60,333.50 333.10,333.50 333.10,342.40 334.80,343.30 335.60,348.40 335.60,354.30 342.90,354.30 342.90,374.70 344.10,376.40 345.00,379.00 345.80,382.70 358.60,382.70 358.60,402.70 379.80,402.70 379.80,419.60 468.80,419.60" fill="none" stroke="#88143b" stroke-width="1.80" stroke-dasharray="1.1 0.6" stroke-opacity="1.00" stroke-linejoin="miter"/>
<line x1="347.50" y1="380.90" x2="347.50" y2="384.50" stroke="#88143b" stroke-width="1.30" stroke-linecap="butt"/>
<line x1="350.10" y1="380.90" x2="350.10" y2="384.50" stroke="#88143b" stroke-width="1.30" stroke-linecap="butt"/>
<line x1="353.50" y1="380.90" x2="353.50" y2="384.50" stroke="#88143b" stroke-width="1.30" stroke-linecap="butt"/>
<line x1="356.00" y1="380.90" x2="356.00" y2="384.50" stroke="#88143b" stroke-width="1.30" stroke-linecap="butt"/>
<line x1="362.00" y1="400.90" x2="362.00" y2="404.50" stroke="#88143b" stroke-width="1.30" stroke-linecap="butt"/>
<line x1="364.50" y1="400.90" x2="364.50" y2="404.50" stroke="#88143b" stroke-width="1.30" stroke-linecap="butt"/>
<line x1="368.70" y1="400.90" x2="368.70" y2="404.50" stroke="#88143b" stroke-width="1.30" stroke-linecap="butt"/>
<line x1="377.20" y1="400.90" x2="377.20" y2="404.50" stroke="#88143b" stroke-width="1.30" stroke-linecap="butt"/>
<line x1="383.00" y1="417.80" x2="383.00" y2="421.40" stroke="#88143b" stroke-width="1.30" stroke-linecap="butt"/>
<line x1="412.50" y1="417.80" x2="412.50" y2="421.40" stroke="#88143b" stroke-width="1.30" stroke-linecap="butt"/>
<line x1="468.80" y1="417.80" x2="468.80" y2="421.40" stroke="#88143b" stroke-width="1.30" stroke-linecap="butt"/>
<line x1="369.00" y1="332.20" x2="382.50" y2="332.20" stroke="#62102a" stroke-width="1.90" stroke-dasharray="1.25 0.75" stroke-linecap="butt"/>
<line x1="370.00" y1="342.20" x2="381.50" y2="342.20" stroke="#88143b" stroke-width="1.70" stroke-linecap="butt"/>
<line x1="369.00" y1="356.00" x2="382.50" y2="356.00" stroke="#5f8a35" stroke-width="1.90" stroke-dasharray="1.25 0.75" stroke-linecap="butt"/>
<line x1="370.00" y1="365.90" x2="381.50" y2="365.90" stroke="#7aa843" stroke-width="1.70" stroke-linecap="butt"/>
<text x="388.70" y="335.10" font-size="8.40" text-anchor="start" fill="#1a1a1a" stroke="#1a1a1a" stroke-width="0.28" style="" >RAS(–)</text>
<text x="388.70" y="345.10" font-size="8.40" text-anchor="start" fill="#1a1a1a" stroke="#1a1a1a" stroke-width="0.28" style="" >RAS(+)</text>
<text x="388.70" y="358.90" font-size="8.40" text-anchor="start" fill="#1a1a1a" stroke="#1a1a1a" stroke-width="0.28" style="" >RAS(–)</text>
<text x="388.70" y="368.80" font-size="8.40" text-anchor="start" fill="#1a1a1a" stroke="#1a1a1a" stroke-width="0.28" style="" >RAS(+)</text>
<polyline points="420.60,327.90 423.20,327.90 423.20,344.20 420.60,344.20" fill="none" stroke="#3d4658" stroke-width="1.3"/>
<polyline points="420.60,353.00 423.20,353.00 423.20,369.30 420.60,369.30" fill="none" stroke="#3d4658" stroke-width="1.3"/>
<text x="428.30" y="339.10" font-size="8.40" text-anchor="start" fill="#1a1a1a" stroke="#1a1a1a" stroke-width="0.28" style="" >MDS/MPN (WHO)</text>
<text x="428.30" y="364.50" font-size="8.40" text-anchor="start" fill="#1a1a1a" stroke="#1a1a1a" stroke-width="0.28" style="" >sAML (WHO)</text>
<text x="393.80" y="468.60" font-size="8.40" text-anchor="start" fill="#82b04e" stroke="#82b04e" stroke-width="0.15" style="" xml:space="preserve">HR 1.73 (1.16–2.58)  <tspan font-style="italic" dx="1.6">P</tspan> = .0069</text>
<text x="394.30" y="501.60" font-size="8.40" text-anchor="start" fill="#9c2a4e" stroke="#9c2a4e" stroke-width="0.15" style="" xml:space="preserve">HR 3.67 (1.68–8.02)  <tspan font-style="italic" dx="1.6">P</tspan> = .0011</text>
<rect x="0.75" y="0.75" width="518.5" height="587.5" fill="none" stroke="#000" stroke-width="1.5"/>
</svg>
</body></html>
